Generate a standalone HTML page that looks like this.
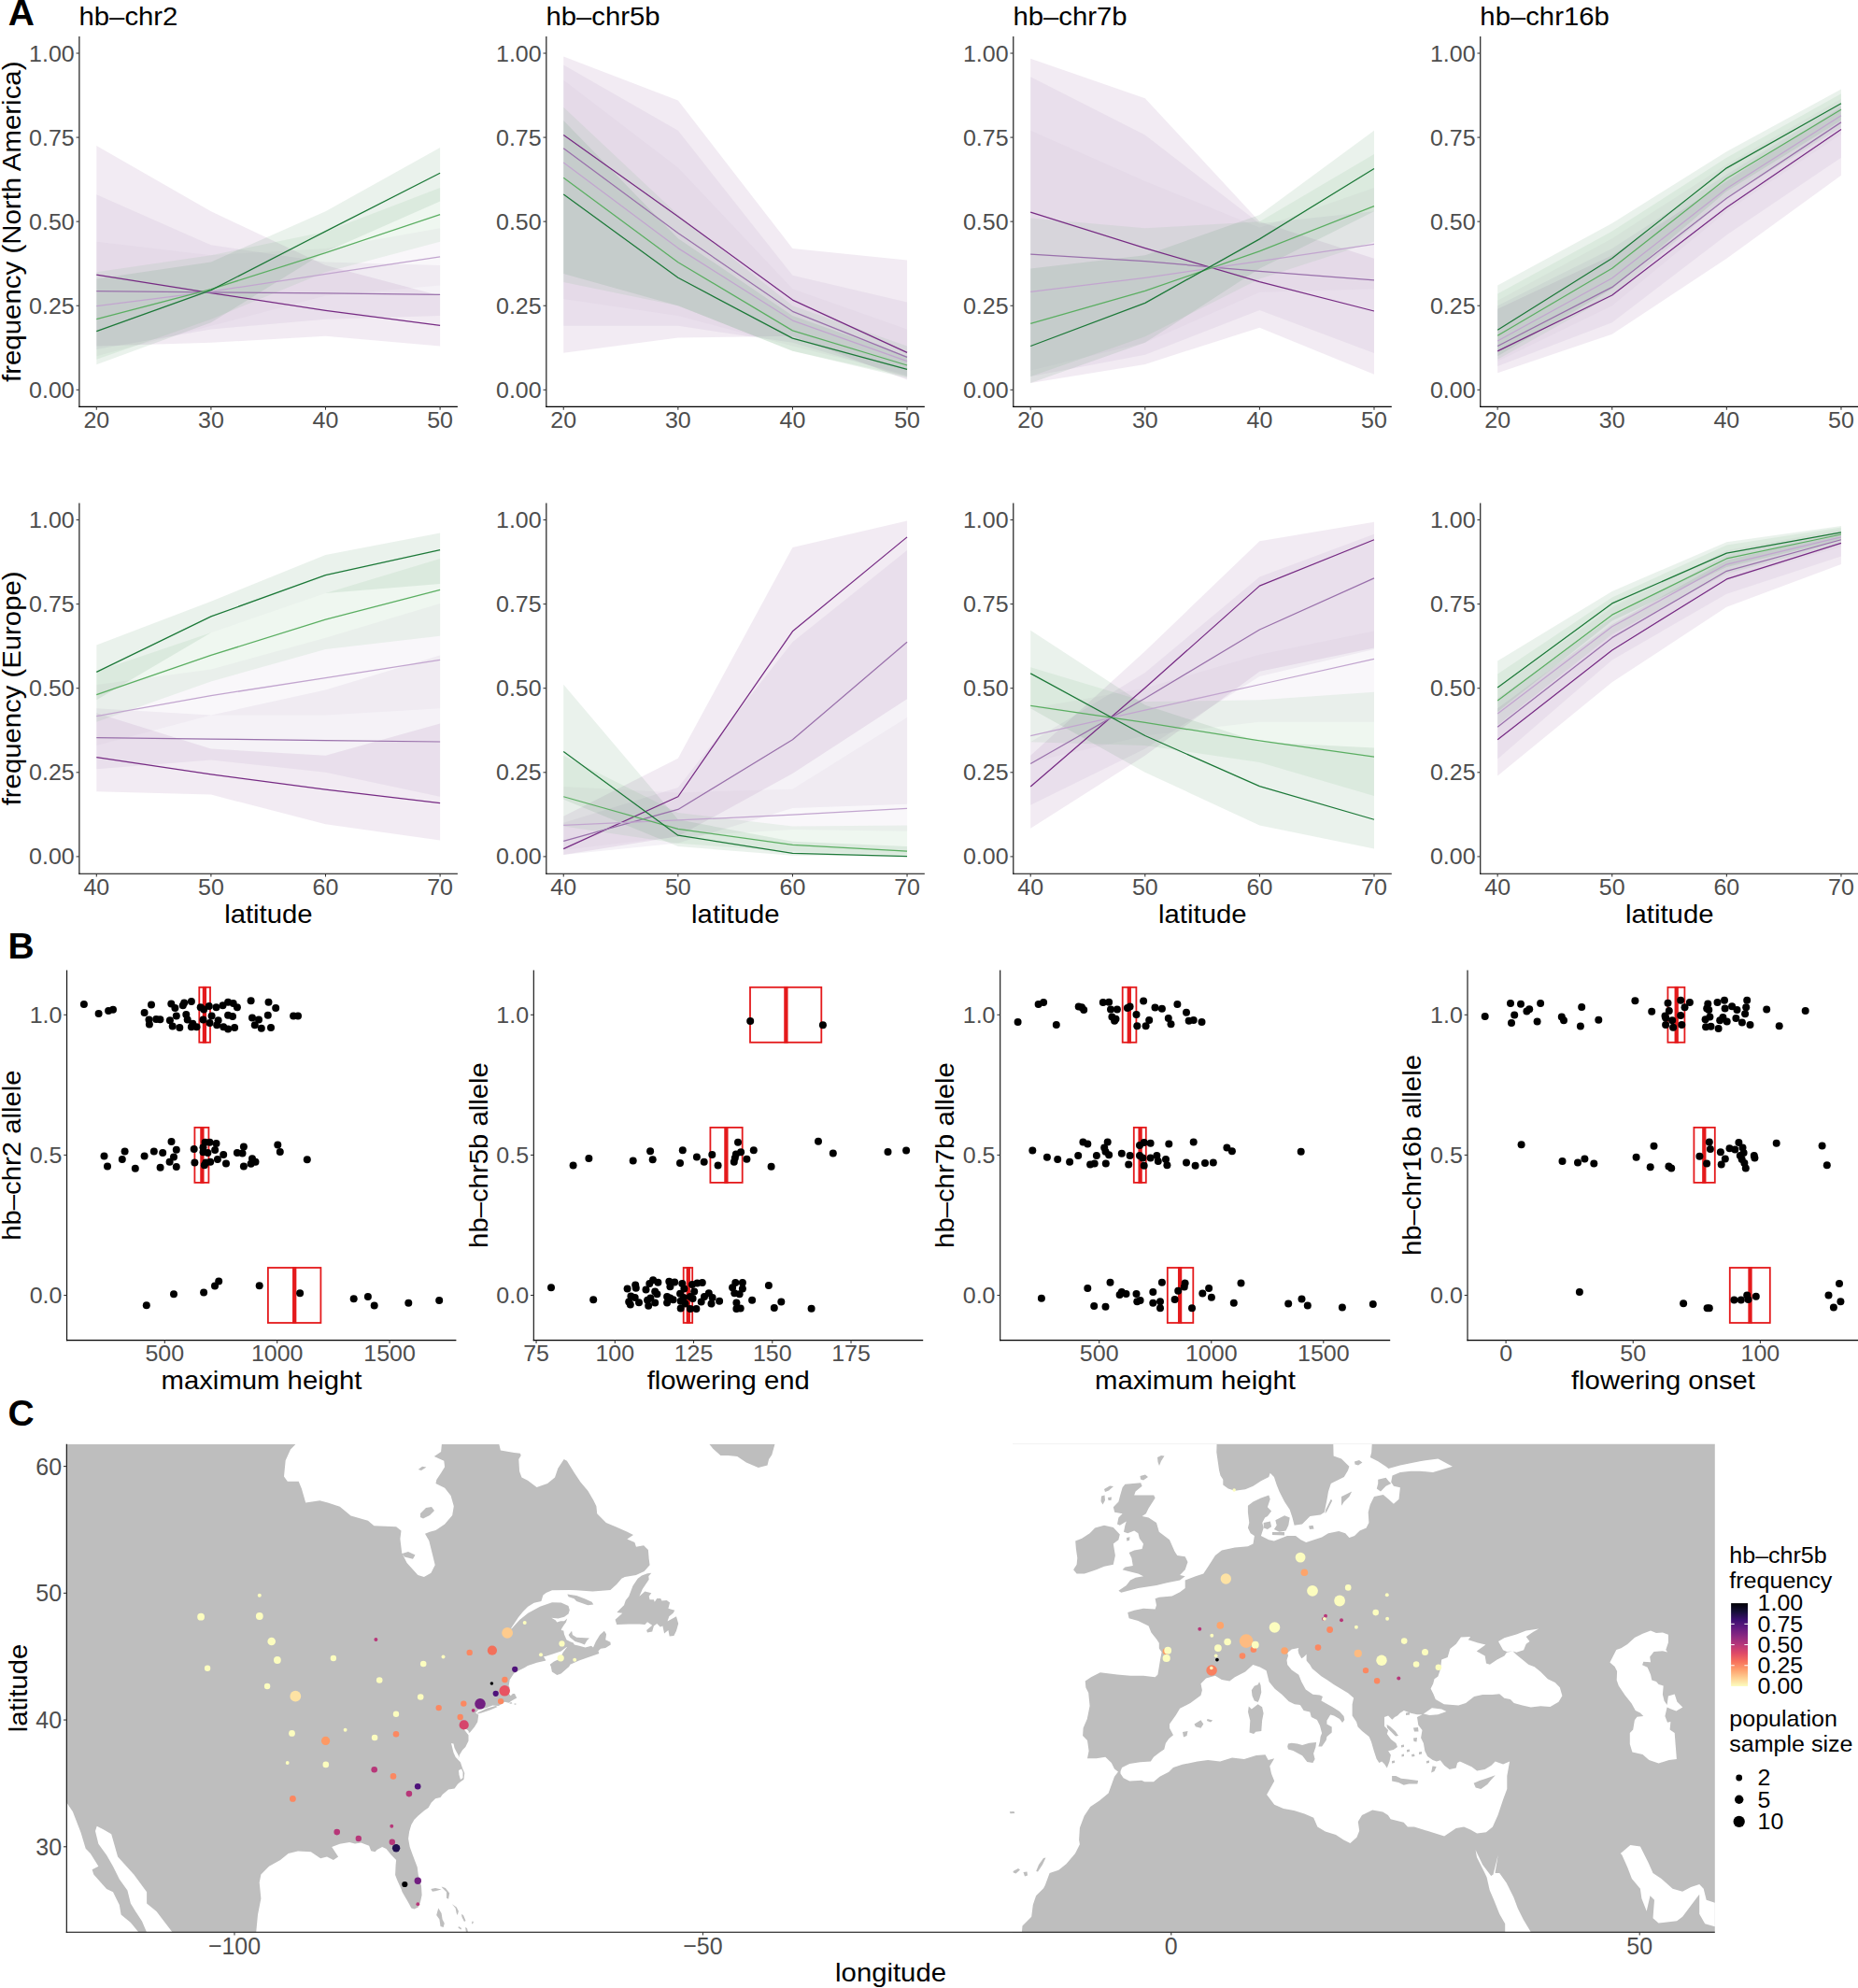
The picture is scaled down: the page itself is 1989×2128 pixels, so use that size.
<!DOCTYPE html>
<html><head><meta charset="utf-8"><title>figure</title>
<style>html,body{margin:0;padding:0;background:#fff;}svg{display:block;}</style>
</head><body>
<svg xmlns="http://www.w3.org/2000/svg" width="1989" height="2128" viewBox="0 0 1989 2128" font-family="'Liberation Sans', Arial, Helvetica, sans-serif">
<path d="M103.3 156.08 L225.9 226.34 L348.5 283.99 L471.1 316.42 L471.1 370.46 L348.5 359.65 L225.9 366.86 L103.3 370.46Z" fill="#762a83" fill-opacity="0.095"/>
<path d="M103.3 208.33 L225.9 262.37 L348.5 280.39 L471.1 283.99 L471.1 338.03 L348.5 341.64 L225.9 352.45 L103.3 374.06Z" fill="#9970ab" fill-opacity="0.095"/>
<path d="M103.3 258.77 L225.9 273.18 L348.5 265.97 L471.1 244.36 L471.1 305.61 L348.5 316.42 L225.9 348.84 L103.3 381.27Z" fill="#c2a5cf" fill-opacity="0.095"/>
<path d="M103.3 291.2 L225.9 273.18 L348.5 247.96 L471.1 201.12 L471.1 258.77 L348.5 291.2 L225.9 341.64 L103.3 384.87Z" fill="#5aae61" fill-opacity="0.095"/>
<path d="M103.3 298.4 L225.9 280.39 L348.5 226.34 L471.1 157.88 L471.1 215.53 L348.5 269.58 L225.9 345.24 L103.3 390.28Z" fill="#1b7837" fill-opacity="0.095"/>
<path d="M103.3 294.08 L225.9 313.53 L348.5 332.27 L471.1 348.48" fill="none" stroke="#762a83" stroke-width="1.25" stroke-linejoin="round"/>
<path d="M103.3 311.73 L225.9 312.81 L348.5 313.89 L471.1 315.34" fill="none" stroke="#9970ab" stroke-width="1.25" stroke-linejoin="round"/>
<path d="M103.3 327.59 L225.9 312.09 L348.5 293.36 L471.1 274.98" fill="none" stroke="#c2a5cf" stroke-width="1.25" stroke-linejoin="round"/>
<path d="M103.3 341.64 L225.9 309.57 L348.5 270.66 L471.1 229.58" fill="none" stroke="#5aae61" stroke-width="1.25" stroke-linejoin="round"/>
<path d="M103.3 354.61 L225.9 310.65 L348.5 247.6 L471.1 185.27" fill="none" stroke="#1b7837" stroke-width="1.25" stroke-linejoin="round"/>
<line x1="84.9" y1="39.1" x2="84.9" y2="435.93" stroke="#000" stroke-width="1.07"/>
<line x1="84.37" y1="435.4" x2="489.9" y2="435.4" stroke="#000" stroke-width="1.07"/>
<line x1="81.6" y1="417.3" x2="84.9" y2="417.3" stroke="#333" stroke-width="1.07"/>
<text x="79.7" y="425.8" font-size="24.5" fill="#4d4d4d" textLength="48.64" lengthAdjust="spacingAndGlyphs" text-anchor="end">0.00</text>
<line x1="81.6" y1="327.23" x2="84.9" y2="327.23" stroke="#333" stroke-width="1.07"/>
<text x="79.7" y="335.73" font-size="24.5" fill="#4d4d4d" textLength="48.64" lengthAdjust="spacingAndGlyphs" text-anchor="end">0.25</text>
<line x1="81.6" y1="237.15" x2="84.9" y2="237.15" stroke="#333" stroke-width="1.07"/>
<text x="79.7" y="245.65" font-size="24.5" fill="#4d4d4d" textLength="48.64" lengthAdjust="spacingAndGlyphs" text-anchor="end">0.50</text>
<line x1="81.6" y1="147.07" x2="84.9" y2="147.07" stroke="#333" stroke-width="1.07"/>
<text x="79.7" y="155.57" font-size="24.5" fill="#4d4d4d" textLength="48.64" lengthAdjust="spacingAndGlyphs" text-anchor="end">0.75</text>
<line x1="81.6" y1="57" x2="84.9" y2="57" stroke="#333" stroke-width="1.07"/>
<text x="79.7" y="65.5" font-size="24.5" fill="#4d4d4d" textLength="48.64" lengthAdjust="spacingAndGlyphs" text-anchor="end">1.00</text>
<line x1="103.3" y1="435.4" x2="103.3" y2="438.7" stroke="#333" stroke-width="1.07"/>
<text x="103.3" y="458" font-size="24.5" fill="#4d4d4d" textLength="27.80" lengthAdjust="spacingAndGlyphs" text-anchor="middle">20</text>
<line x1="225.9" y1="435.4" x2="225.9" y2="438.7" stroke="#333" stroke-width="1.07"/>
<text x="225.9" y="458" font-size="24.5" fill="#4d4d4d" textLength="27.80" lengthAdjust="spacingAndGlyphs" text-anchor="middle">30</text>
<line x1="348.5" y1="435.4" x2="348.5" y2="438.7" stroke="#333" stroke-width="1.07"/>
<text x="348.5" y="458" font-size="24.5" fill="#4d4d4d" textLength="27.80" lengthAdjust="spacingAndGlyphs" text-anchor="middle">40</text>
<line x1="471.1" y1="435.4" x2="471.1" y2="438.7" stroke="#333" stroke-width="1.07"/>
<text x="471.1" y="458" font-size="24.5" fill="#4d4d4d" textLength="27.80" lengthAdjust="spacingAndGlyphs" text-anchor="middle">50</text>
<path d="M603.25 60.6 L725.85 107.44 L848.45 265.97 L971.05 278.58 L971.05 406.49 L848.45 359.65 L725.85 361.45 L603.25 377.67Z" fill="#762a83" fill-opacity="0.095"/>
<path d="M603.25 69.61 L725.85 139.87 L848.45 294.8 L971.05 323.62 L971.05 402.89 L848.45 366.86 L725.85 348.84 L603.25 348.84Z" fill="#9970ab" fill-opacity="0.095"/>
<path d="M603.25 85.82 L725.85 179.5 L848.45 309.21 L971.05 352.45 L971.05 401.09 L848.45 370.46 L725.85 338.03 L603.25 320.02Z" fill="#c2a5cf" fill-opacity="0.095"/>
<path d="M603.25 114.65 L725.85 229.94 L848.45 327.23 L971.05 370.46 L971.05 402.89 L848.45 375.87 L725.85 327.23 L603.25 302Z" fill="#5aae61" fill-opacity="0.095"/>
<path d="M603.25 129.06 L725.85 255.16 L848.45 338.03 L971.05 381.27 L971.05 404.69 L848.45 375.87 L725.85 327.23 L603.25 293Z" fill="#1b7837" fill-opacity="0.095"/>
<path d="M603.25 144.55 L725.85 231.75 L848.45 321.1 L971.05 377.31" fill="none" stroke="#762a83" stroke-width="1.25" stroke-linejoin="round"/>
<path d="M603.25 158.78 L725.85 249.4 L848.45 333.35 L971.05 382.35" fill="none" stroke="#9970ab" stroke-width="1.25" stroke-linejoin="round"/>
<path d="M603.25 174.1 L725.85 265.61 L848.45 343.08 L971.05 386.67" fill="none" stroke="#c2a5cf" stroke-width="1.25" stroke-linejoin="round"/>
<path d="M603.25 190.31 L725.85 280.75 L848.45 353.89 L971.05 391" fill="none" stroke="#5aae61" stroke-width="1.25" stroke-linejoin="round"/>
<path d="M603.25 207.97 L725.85 297.32 L848.45 362.17 L971.05 395.32" fill="none" stroke="#1b7837" stroke-width="1.25" stroke-linejoin="round"/>
<line x1="584.85" y1="39.1" x2="584.85" y2="435.93" stroke="#000" stroke-width="1.07"/>
<line x1="584.32" y1="435.4" x2="989.85" y2="435.4" stroke="#000" stroke-width="1.07"/>
<line x1="581.55" y1="417.3" x2="584.85" y2="417.3" stroke="#333" stroke-width="1.07"/>
<text x="579.65" y="425.8" font-size="24.5" fill="#4d4d4d" textLength="48.64" lengthAdjust="spacingAndGlyphs" text-anchor="end">0.00</text>
<line x1="581.55" y1="327.23" x2="584.85" y2="327.23" stroke="#333" stroke-width="1.07"/>
<text x="579.65" y="335.73" font-size="24.5" fill="#4d4d4d" textLength="48.64" lengthAdjust="spacingAndGlyphs" text-anchor="end">0.25</text>
<line x1="581.55" y1="237.15" x2="584.85" y2="237.15" stroke="#333" stroke-width="1.07"/>
<text x="579.65" y="245.65" font-size="24.5" fill="#4d4d4d" textLength="48.64" lengthAdjust="spacingAndGlyphs" text-anchor="end">0.50</text>
<line x1="581.55" y1="147.07" x2="584.85" y2="147.07" stroke="#333" stroke-width="1.07"/>
<text x="579.65" y="155.57" font-size="24.5" fill="#4d4d4d" textLength="48.64" lengthAdjust="spacingAndGlyphs" text-anchor="end">0.75</text>
<line x1="581.55" y1="57" x2="584.85" y2="57" stroke="#333" stroke-width="1.07"/>
<text x="579.65" y="65.5" font-size="24.5" fill="#4d4d4d" textLength="48.64" lengthAdjust="spacingAndGlyphs" text-anchor="end">1.00</text>
<line x1="603.25" y1="435.4" x2="603.25" y2="438.7" stroke="#333" stroke-width="1.07"/>
<text x="603.25" y="458" font-size="24.5" fill="#4d4d4d" textLength="27.80" lengthAdjust="spacingAndGlyphs" text-anchor="middle">20</text>
<line x1="725.85" y1="435.4" x2="725.85" y2="438.7" stroke="#333" stroke-width="1.07"/>
<text x="725.85" y="458" font-size="24.5" fill="#4d4d4d" textLength="27.80" lengthAdjust="spacingAndGlyphs" text-anchor="middle">30</text>
<line x1="848.45" y1="435.4" x2="848.45" y2="438.7" stroke="#333" stroke-width="1.07"/>
<text x="848.45" y="458" font-size="24.5" fill="#4d4d4d" textLength="27.80" lengthAdjust="spacingAndGlyphs" text-anchor="middle">40</text>
<line x1="971.05" y1="435.4" x2="971.05" y2="438.7" stroke="#333" stroke-width="1.07"/>
<text x="971.05" y="458" font-size="24.5" fill="#4d4d4d" textLength="27.80" lengthAdjust="spacingAndGlyphs" text-anchor="middle">50</text>
<path d="M1103.2 62.76 L1225.8 105.28 L1348.4 237.15 L1471 276.78 L1471 400.73 L1348.4 350.64 L1225.8 389.92 L1103.2 410.09Z" fill="#762a83" fill-opacity="0.095"/>
<path d="M1103.2 82.22 L1225.8 144.55 L1348.4 239.31 L1471 226.34 L1471 378.03 L1348.4 331.91 L1225.8 379.83 L1103.2 402.89Z" fill="#9970ab" fill-opacity="0.095"/>
<path d="M1103.2 139.87 L1225.8 193.91 L1348.4 243.64 L1471 201.12 L1471 309.21 L1348.4 312.81 L1225.8 366.86 L1103.2 396.4Z" fill="#c2a5cf" fill-opacity="0.095"/>
<path d="M1103.2 233.55 L1225.8 244.36 L1348.4 237.15 L1471 165.09 L1471 258.77 L1348.4 298.4 L1225.8 360.37 L1103.2 402.89Z" fill="#5aae61" fill-opacity="0.095"/>
<path d="M1103.2 287.59 L1225.8 273.18 L1348.4 229.94 L1471 139.87 L1471 226.34 L1348.4 287.59 L1225.8 366.86 L1103.2 410.09Z" fill="#1b7837" fill-opacity="0.095"/>
<path d="M1103.2 227.06 L1225.8 265.61 L1348.4 301.64 L1471 332.99" fill="none" stroke="#762a83" stroke-width="1.25" stroke-linejoin="round"/>
<path d="M1103.2 272.1 L1225.8 279.67 L1348.4 290.47 L1471 299.84" fill="none" stroke="#9970ab" stroke-width="1.25" stroke-linejoin="round"/>
<path d="M1103.2 312.45 L1225.8 297.32 L1348.4 279.67 L1471 261.29" fill="none" stroke="#c2a5cf" stroke-width="1.25" stroke-linejoin="round"/>
<path d="M1103.2 346.32 L1225.8 311.37 L1348.4 268.86 L1471 220.58" fill="none" stroke="#5aae61" stroke-width="1.25" stroke-linejoin="round"/>
<path d="M1103.2 370.46 L1225.8 324.34 L1348.4 255.89 L1471 180.58" fill="none" stroke="#1b7837" stroke-width="1.25" stroke-linejoin="round"/>
<line x1="1084.8" y1="39.1" x2="1084.8" y2="435.93" stroke="#000" stroke-width="1.07"/>
<line x1="1084.27" y1="435.4" x2="1489.8" y2="435.4" stroke="#000" stroke-width="1.07"/>
<line x1="1081.5" y1="417.3" x2="1084.8" y2="417.3" stroke="#333" stroke-width="1.07"/>
<text x="1079.6" y="425.8" font-size="24.5" fill="#4d4d4d" textLength="48.64" lengthAdjust="spacingAndGlyphs" text-anchor="end">0.00</text>
<line x1="1081.5" y1="327.23" x2="1084.8" y2="327.23" stroke="#333" stroke-width="1.07"/>
<text x="1079.6" y="335.73" font-size="24.5" fill="#4d4d4d" textLength="48.64" lengthAdjust="spacingAndGlyphs" text-anchor="end">0.25</text>
<line x1="1081.5" y1="237.15" x2="1084.8" y2="237.15" stroke="#333" stroke-width="1.07"/>
<text x="1079.6" y="245.65" font-size="24.5" fill="#4d4d4d" textLength="48.64" lengthAdjust="spacingAndGlyphs" text-anchor="end">0.50</text>
<line x1="1081.5" y1="147.07" x2="1084.8" y2="147.07" stroke="#333" stroke-width="1.07"/>
<text x="1079.6" y="155.57" font-size="24.5" fill="#4d4d4d" textLength="48.64" lengthAdjust="spacingAndGlyphs" text-anchor="end">0.75</text>
<line x1="1081.5" y1="57" x2="1084.8" y2="57" stroke="#333" stroke-width="1.07"/>
<text x="1079.6" y="65.5" font-size="24.5" fill="#4d4d4d" textLength="48.64" lengthAdjust="spacingAndGlyphs" text-anchor="end">1.00</text>
<line x1="1103.2" y1="435.4" x2="1103.2" y2="438.7" stroke="#333" stroke-width="1.07"/>
<text x="1103.2" y="458" font-size="24.5" fill="#4d4d4d" textLength="27.80" lengthAdjust="spacingAndGlyphs" text-anchor="middle">20</text>
<line x1="1225.8" y1="435.4" x2="1225.8" y2="438.7" stroke="#333" stroke-width="1.07"/>
<text x="1225.8" y="458" font-size="24.5" fill="#4d4d4d" textLength="27.80" lengthAdjust="spacingAndGlyphs" text-anchor="middle">30</text>
<line x1="1348.4" y1="435.4" x2="1348.4" y2="438.7" stroke="#333" stroke-width="1.07"/>
<text x="1348.4" y="458" font-size="24.5" fill="#4d4d4d" textLength="27.80" lengthAdjust="spacingAndGlyphs" text-anchor="middle">40</text>
<line x1="1471" y1="435.4" x2="1471" y2="438.7" stroke="#333" stroke-width="1.07"/>
<text x="1471" y="458" font-size="24.5" fill="#4d4d4d" textLength="27.80" lengthAdjust="spacingAndGlyphs" text-anchor="middle">50</text>
<path d="M1603.15 330.83 L1725.75 273.18 L1848.35 193.91 L1970.95 114.65 L1970.95 187.79 L1848.35 276.78 L1725.75 357.85 L1603.15 399.29Z" fill="#762a83" fill-opacity="0.095"/>
<path d="M1603.15 327.23 L1725.75 265.97 L1848.35 186.71 L1970.95 111.05 L1970.95 168.69 L1848.35 251.56 L1725.75 345.24 L1603.15 392.08Z" fill="#9970ab" fill-opacity="0.095"/>
<path d="M1603.15 321.82 L1725.75 255.16 L1848.35 175.9 L1970.95 105.64 L1970.95 143.47 L1848.35 226.34 L1725.75 327.23 L1603.15 386.67Z" fill="#c2a5cf" fill-opacity="0.095"/>
<path d="M1603.15 314.61 L1725.75 247.6 L1848.35 168.69 L1970.95 100.24 L1970.95 136.27 L1848.35 211.93 L1725.75 316.42 L1603.15 384.87Z" fill="#5aae61" fill-opacity="0.095"/>
<path d="M1603.15 305.61 L1725.75 238.95 L1848.35 162.21 L1970.95 95.55 L1970.95 129.06 L1848.35 204.72 L1725.75 309.21 L1603.15 381.27Z" fill="#1b7837" fill-opacity="0.095"/>
<path d="M1603.15 375.87 L1725.75 316.06 L1848.35 222.02 L1970.95 138.43" fill="none" stroke="#762a83" stroke-width="1.25" stroke-linejoin="round"/>
<path d="M1603.15 370.46 L1725.75 307.41 L1848.35 212.29 L1970.95 130.86" fill="none" stroke="#9970ab" stroke-width="1.25" stroke-linejoin="round"/>
<path d="M1603.15 365.06 L1725.75 297.68 L1848.35 201.84 L1970.95 123.66" fill="none" stroke="#c2a5cf" stroke-width="1.25" stroke-linejoin="round"/>
<path d="M1603.15 359.29 L1725.75 287.23 L1848.35 191.03 L1970.95 117.17" fill="none" stroke="#5aae61" stroke-width="1.25" stroke-linejoin="round"/>
<path d="M1603.15 353.17 L1725.75 276.42 L1848.35 179.86 L1970.95 110.68" fill="none" stroke="#1b7837" stroke-width="1.25" stroke-linejoin="round"/>
<line x1="1584.75" y1="39.1" x2="1584.75" y2="435.93" stroke="#000" stroke-width="1.07"/>
<line x1="1584.22" y1="435.4" x2="1989.75" y2="435.4" stroke="#000" stroke-width="1.07"/>
<line x1="1581.45" y1="417.3" x2="1584.75" y2="417.3" stroke="#333" stroke-width="1.07"/>
<text x="1579.55" y="425.8" font-size="24.5" fill="#4d4d4d" textLength="48.64" lengthAdjust="spacingAndGlyphs" text-anchor="end">0.00</text>
<line x1="1581.45" y1="327.23" x2="1584.75" y2="327.23" stroke="#333" stroke-width="1.07"/>
<text x="1579.55" y="335.73" font-size="24.5" fill="#4d4d4d" textLength="48.64" lengthAdjust="spacingAndGlyphs" text-anchor="end">0.25</text>
<line x1="1581.45" y1="237.15" x2="1584.75" y2="237.15" stroke="#333" stroke-width="1.07"/>
<text x="1579.55" y="245.65" font-size="24.5" fill="#4d4d4d" textLength="48.64" lengthAdjust="spacingAndGlyphs" text-anchor="end">0.50</text>
<line x1="1581.45" y1="147.07" x2="1584.75" y2="147.07" stroke="#333" stroke-width="1.07"/>
<text x="1579.55" y="155.57" font-size="24.5" fill="#4d4d4d" textLength="48.64" lengthAdjust="spacingAndGlyphs" text-anchor="end">0.75</text>
<line x1="1581.45" y1="57" x2="1584.75" y2="57" stroke="#333" stroke-width="1.07"/>
<text x="1579.55" y="65.5" font-size="24.5" fill="#4d4d4d" textLength="48.64" lengthAdjust="spacingAndGlyphs" text-anchor="end">1.00</text>
<line x1="1603.15" y1="435.4" x2="1603.15" y2="438.7" stroke="#333" stroke-width="1.07"/>
<text x="1603.15" y="458" font-size="24.5" fill="#4d4d4d" textLength="27.80" lengthAdjust="spacingAndGlyphs" text-anchor="middle">20</text>
<line x1="1725.75" y1="435.4" x2="1725.75" y2="438.7" stroke="#333" stroke-width="1.07"/>
<text x="1725.75" y="458" font-size="24.5" fill="#4d4d4d" textLength="27.80" lengthAdjust="spacingAndGlyphs" text-anchor="middle">30</text>
<line x1="1848.35" y1="435.4" x2="1848.35" y2="438.7" stroke="#333" stroke-width="1.07"/>
<text x="1848.35" y="458" font-size="24.5" fill="#4d4d4d" textLength="27.80" lengthAdjust="spacingAndGlyphs" text-anchor="middle">40</text>
<line x1="1970.95" y1="435.4" x2="1970.95" y2="438.7" stroke="#333" stroke-width="1.07"/>
<text x="1970.95" y="458" font-size="24.5" fill="#4d4d4d" textLength="27.80" lengthAdjust="spacingAndGlyphs" text-anchor="middle">50</text>
<text x="22" y="237.25" font-size="27.9" fill="#000" textLength="343.52" lengthAdjust="spacingAndGlyphs" text-anchor="middle" transform="rotate(-90 22 237.25)">frequency (North America)</text>
<path d="M103.3 763.37 L225.9 801.57 L348.5 808.78 L471.1 774.54 L471.1 899.6 L348.5 882.3 L225.9 850.59 L103.3 847.34Z" fill="#762a83" fill-opacity="0.095"/>
<path d="M103.3 758.32 L225.9 765.53 L348.5 738.5 L471.1 701.38 L471.1 852.75 L348.5 826.8 L225.9 813.47 L103.3 823.2Z" fill="#9970ab" fill-opacity="0.095"/>
<path d="M103.3 733.1 L225.9 716.52 L348.5 682.64 L471.1 645.88 L471.1 758.32 L348.5 765.53 L225.9 765.53 L103.3 797.97Z" fill="#c2a5cf" fill-opacity="0.095"/>
<path d="M103.3 718.68 L225.9 677.23 L348.5 635.07 L471.1 597.95 L471.1 680.84 L348.5 694.89 L225.9 729.49 L103.3 772.74Z" fill="#5aae61" fill-opacity="0.095"/>
<path d="M103.3 690.57 L225.9 643.72 L348.5 593.98 L471.1 570.56 L471.1 624.98 L348.5 635.07 L225.9 677.23 L103.3 749.31Z" fill="#1b7837" fill-opacity="0.095"/>
<path d="M103.3 810.58 L225.9 828.96 L348.5 845.18 L471.1 859.6" fill="none" stroke="#762a83" stroke-width="1.25" stroke-linejoin="round"/>
<path d="M103.3 789.68 L225.9 791.12 L348.5 792.56 L471.1 794" fill="none" stroke="#9970ab" stroke-width="1.25" stroke-linejoin="round"/>
<path d="M103.3 766.61 L225.9 744.63 L348.5 725.53 L471.1 706.43" fill="none" stroke="#c2a5cf" stroke-width="1.25" stroke-linejoin="round"/>
<path d="M103.3 743.55 L225.9 701.38 L348.5 663.18 L471.1 631.46" fill="none" stroke="#5aae61" stroke-width="1.25" stroke-linejoin="round"/>
<path d="M103.3 719.4 L225.9 659.93 L348.5 615.61 L471.1 588.58" fill="none" stroke="#1b7837" stroke-width="1.25" stroke-linejoin="round"/>
<line x1="84.9" y1="538.6" x2="84.9" y2="935.73" stroke="#000" stroke-width="1.07"/>
<line x1="84.37" y1="935.2" x2="489.9" y2="935.2" stroke="#000" stroke-width="1.07"/>
<line x1="81.6" y1="916.9" x2="84.9" y2="916.9" stroke="#333" stroke-width="1.07"/>
<text x="79.7" y="925.4" font-size="24.5" fill="#4d4d4d" textLength="48.64" lengthAdjust="spacingAndGlyphs" text-anchor="end">0.00</text>
<line x1="81.6" y1="826.8" x2="84.9" y2="826.8" stroke="#333" stroke-width="1.07"/>
<text x="79.7" y="835.3" font-size="24.5" fill="#4d4d4d" textLength="48.64" lengthAdjust="spacingAndGlyphs" text-anchor="end">0.25</text>
<line x1="81.6" y1="736.7" x2="84.9" y2="736.7" stroke="#333" stroke-width="1.07"/>
<text x="79.7" y="745.2" font-size="24.5" fill="#4d4d4d" textLength="48.64" lengthAdjust="spacingAndGlyphs" text-anchor="end">0.50</text>
<line x1="81.6" y1="646.6" x2="84.9" y2="646.6" stroke="#333" stroke-width="1.07"/>
<text x="79.7" y="655.1" font-size="24.5" fill="#4d4d4d" textLength="48.64" lengthAdjust="spacingAndGlyphs" text-anchor="end">0.75</text>
<line x1="81.6" y1="556.5" x2="84.9" y2="556.5" stroke="#333" stroke-width="1.07"/>
<text x="79.7" y="565" font-size="24.5" fill="#4d4d4d" textLength="48.64" lengthAdjust="spacingAndGlyphs" text-anchor="end">1.00</text>
<line x1="103.3" y1="935.2" x2="103.3" y2="938.5" stroke="#333" stroke-width="1.07"/>
<text x="103.3" y="957.8" font-size="24.5" fill="#4d4d4d" textLength="27.80" lengthAdjust="spacingAndGlyphs" text-anchor="middle">40</text>
<line x1="225.9" y1="935.2" x2="225.9" y2="938.5" stroke="#333" stroke-width="1.07"/>
<text x="225.9" y="957.8" font-size="24.5" fill="#4d4d4d" textLength="27.80" lengthAdjust="spacingAndGlyphs" text-anchor="middle">50</text>
<line x1="348.5" y1="935.2" x2="348.5" y2="938.5" stroke="#333" stroke-width="1.07"/>
<text x="348.5" y="957.8" font-size="24.5" fill="#4d4d4d" textLength="27.80" lengthAdjust="spacingAndGlyphs" text-anchor="middle">60</text>
<line x1="471.1" y1="935.2" x2="471.1" y2="938.5" stroke="#333" stroke-width="1.07"/>
<text x="471.1" y="957.8" font-size="24.5" fill="#4d4d4d" textLength="27.80" lengthAdjust="spacingAndGlyphs" text-anchor="middle">70</text>
<text x="287.4" y="987.7" font-size="27.9" fill="#000" textLength="94.46" lengthAdjust="spacingAndGlyphs" text-anchor="middle">latitude</text>
<path d="M603.25 873.65 L725.85 811.66 L848.45 586.05 L971.05 557.58 L971.05 748.23 L848.45 827.88 L725.85 895.28 L603.25 915.1Z" fill="#762a83" fill-opacity="0.095"/>
<path d="M603.25 880.86 L725.85 843.02 L848.45 687.33 L971.05 588.94 L971.05 860.68 L848.45 865 L725.85 902.48 L603.25 915.1Z" fill="#9970ab" fill-opacity="0.095"/>
<path d="M603.25 841.94 L725.85 848.42 L848.45 844.82 L971.05 768.05 L971.05 889.87 L848.45 888.07 L725.85 895.28 L603.25 909.69Z" fill="#c2a5cf" fill-opacity="0.095"/>
<path d="M603.25 808.78 L725.85 870.05 L848.45 884.46 L971.05 883.38 L971.05 915.1 L848.45 911.49 L725.85 902.84 L603.25 884.46Z" fill="#5aae61" fill-opacity="0.095"/>
<path d="M603.25 732.74 L725.85 877.26 L848.45 900.68 L971.05 906.09 L971.05 916.9 L848.45 915.82 L725.85 906.09 L603.25 855.63Z" fill="#1b7837" fill-opacity="0.095"/>
<path d="M603.25 908.61 L725.85 852.75 L848.45 675.79 L971.05 574.88" fill="none" stroke="#762a83" stroke-width="1.25" stroke-linejoin="round"/>
<path d="M603.25 900.32 L725.85 866.44 L848.45 791.84 L971.05 687.33" fill="none" stroke="#9970ab" stroke-width="1.25" stroke-linejoin="round"/>
<path d="M603.25 883.38 L725.85 877.98 L848.45 872.21 L971.05 865.36" fill="none" stroke="#c2a5cf" stroke-width="1.25" stroke-linejoin="round"/>
<path d="M603.25 852.75 L725.85 887.35 L848.45 904.29 L971.05 911.13" fill="none" stroke="#5aae61" stroke-width="1.25" stroke-linejoin="round"/>
<path d="M603.25 804.46 L725.85 894.19 L848.45 913.3 L971.05 916.54" fill="none" stroke="#1b7837" stroke-width="1.25" stroke-linejoin="round"/>
<line x1="584.85" y1="538.6" x2="584.85" y2="935.73" stroke="#000" stroke-width="1.07"/>
<line x1="584.32" y1="935.2" x2="989.85" y2="935.2" stroke="#000" stroke-width="1.07"/>
<line x1="581.55" y1="916.9" x2="584.85" y2="916.9" stroke="#333" stroke-width="1.07"/>
<text x="579.65" y="925.4" font-size="24.5" fill="#4d4d4d" textLength="48.64" lengthAdjust="spacingAndGlyphs" text-anchor="end">0.00</text>
<line x1="581.55" y1="826.8" x2="584.85" y2="826.8" stroke="#333" stroke-width="1.07"/>
<text x="579.65" y="835.3" font-size="24.5" fill="#4d4d4d" textLength="48.64" lengthAdjust="spacingAndGlyphs" text-anchor="end">0.25</text>
<line x1="581.55" y1="736.7" x2="584.85" y2="736.7" stroke="#333" stroke-width="1.07"/>
<text x="579.65" y="745.2" font-size="24.5" fill="#4d4d4d" textLength="48.64" lengthAdjust="spacingAndGlyphs" text-anchor="end">0.50</text>
<line x1="581.55" y1="646.6" x2="584.85" y2="646.6" stroke="#333" stroke-width="1.07"/>
<text x="579.65" y="655.1" font-size="24.5" fill="#4d4d4d" textLength="48.64" lengthAdjust="spacingAndGlyphs" text-anchor="end">0.75</text>
<line x1="581.55" y1="556.5" x2="584.85" y2="556.5" stroke="#333" stroke-width="1.07"/>
<text x="579.65" y="565" font-size="24.5" fill="#4d4d4d" textLength="48.64" lengthAdjust="spacingAndGlyphs" text-anchor="end">1.00</text>
<line x1="603.25" y1="935.2" x2="603.25" y2="938.5" stroke="#333" stroke-width="1.07"/>
<text x="603.25" y="957.8" font-size="24.5" fill="#4d4d4d" textLength="27.80" lengthAdjust="spacingAndGlyphs" text-anchor="middle">40</text>
<line x1="725.85" y1="935.2" x2="725.85" y2="938.5" stroke="#333" stroke-width="1.07"/>
<text x="725.85" y="957.8" font-size="24.5" fill="#4d4d4d" textLength="27.80" lengthAdjust="spacingAndGlyphs" text-anchor="middle">50</text>
<line x1="848.45" y1="935.2" x2="848.45" y2="938.5" stroke="#333" stroke-width="1.07"/>
<text x="848.45" y="957.8" font-size="24.5" fill="#4d4d4d" textLength="27.80" lengthAdjust="spacingAndGlyphs" text-anchor="middle">60</text>
<line x1="971.05" y1="935.2" x2="971.05" y2="938.5" stroke="#333" stroke-width="1.07"/>
<text x="971.05" y="957.8" font-size="24.5" fill="#4d4d4d" textLength="27.80" lengthAdjust="spacingAndGlyphs" text-anchor="middle">70</text>
<text x="787.35" y="987.7" font-size="27.9" fill="#000" textLength="94.46" lengthAdjust="spacingAndGlyphs" text-anchor="middle">latitude</text>
<path d="M1103.2 808.78 L1225.8 697.06 L1348.4 579.21 L1471 558.66 L1471 693.45 L1348.4 718.68 L1225.8 808.78 L1103.2 886.63Z" fill="#762a83" fill-opacity="0.095"/>
<path d="M1103.2 794.36 L1225.8 720.12 L1348.4 617.41 L1471 571.64 L1471 694.89 L1348.4 724.09 L1225.8 801.57 L1103.2 861.76Z" fill="#9970ab" fill-opacity="0.095"/>
<path d="M1103.2 758.32 L1225.8 736.7 L1348.4 700.66 L1471 675.43 L1471 772.74 L1348.4 772.74 L1225.8 787.16 L1103.2 815.99Z" fill="#c2a5cf" fill-opacity="0.095"/>
<path d="M1103.2 714.36 L1225.8 751.12 L1348.4 749.31 L1471 740.66 L1471 852.03 L1348.4 815.99 L1225.8 797.97 L1103.2 794.36Z" fill="#5aae61" fill-opacity="0.095"/>
<path d="M1103.2 674.71 L1225.8 754.72 L1348.4 794.36 L1471 800.49 L1471 908.61 L1348.4 883.38 L1225.8 826.8 L1103.2 758.32Z" fill="#1b7837" fill-opacity="0.095"/>
<path d="M1103.2 841.94 L1225.8 736.34 L1348.4 627.14 L1471 577.76" fill="none" stroke="#762a83" stroke-width="1.25" stroke-linejoin="round"/>
<path d="M1103.2 817.43 L1225.8 747.51 L1348.4 673.99 L1471 618.85" fill="none" stroke="#9970ab" stroke-width="1.25" stroke-linejoin="round"/>
<path d="M1103.2 787.52 L1225.8 760.13 L1348.4 732.74 L1471 705.35" fill="none" stroke="#c2a5cf" stroke-width="1.25" stroke-linejoin="round"/>
<path d="M1103.2 755.44 L1225.8 773.46 L1348.4 792.92 L1471 810.22" fill="none" stroke="#5aae61" stroke-width="1.25" stroke-linejoin="round"/>
<path d="M1103.2 720.84 L1225.8 787.52 L1348.4 841.58 L1471 877.26" fill="none" stroke="#1b7837" stroke-width="1.25" stroke-linejoin="round"/>
<line x1="1084.8" y1="538.6" x2="1084.8" y2="935.73" stroke="#000" stroke-width="1.07"/>
<line x1="1084.27" y1="935.2" x2="1489.8" y2="935.2" stroke="#000" stroke-width="1.07"/>
<line x1="1081.5" y1="916.9" x2="1084.8" y2="916.9" stroke="#333" stroke-width="1.07"/>
<text x="1079.6" y="925.4" font-size="24.5" fill="#4d4d4d" textLength="48.64" lengthAdjust="spacingAndGlyphs" text-anchor="end">0.00</text>
<line x1="1081.5" y1="826.8" x2="1084.8" y2="826.8" stroke="#333" stroke-width="1.07"/>
<text x="1079.6" y="835.3" font-size="24.5" fill="#4d4d4d" textLength="48.64" lengthAdjust="spacingAndGlyphs" text-anchor="end">0.25</text>
<line x1="1081.5" y1="736.7" x2="1084.8" y2="736.7" stroke="#333" stroke-width="1.07"/>
<text x="1079.6" y="745.2" font-size="24.5" fill="#4d4d4d" textLength="48.64" lengthAdjust="spacingAndGlyphs" text-anchor="end">0.50</text>
<line x1="1081.5" y1="646.6" x2="1084.8" y2="646.6" stroke="#333" stroke-width="1.07"/>
<text x="1079.6" y="655.1" font-size="24.5" fill="#4d4d4d" textLength="48.64" lengthAdjust="spacingAndGlyphs" text-anchor="end">0.75</text>
<line x1="1081.5" y1="556.5" x2="1084.8" y2="556.5" stroke="#333" stroke-width="1.07"/>
<text x="1079.6" y="565" font-size="24.5" fill="#4d4d4d" textLength="48.64" lengthAdjust="spacingAndGlyphs" text-anchor="end">1.00</text>
<line x1="1103.2" y1="935.2" x2="1103.2" y2="938.5" stroke="#333" stroke-width="1.07"/>
<text x="1103.2" y="957.8" font-size="24.5" fill="#4d4d4d" textLength="27.80" lengthAdjust="spacingAndGlyphs" text-anchor="middle">40</text>
<line x1="1225.8" y1="935.2" x2="1225.8" y2="938.5" stroke="#333" stroke-width="1.07"/>
<text x="1225.8" y="957.8" font-size="24.5" fill="#4d4d4d" textLength="27.80" lengthAdjust="spacingAndGlyphs" text-anchor="middle">50</text>
<line x1="1348.4" y1="935.2" x2="1348.4" y2="938.5" stroke="#333" stroke-width="1.07"/>
<text x="1348.4" y="957.8" font-size="24.5" fill="#4d4d4d" textLength="27.80" lengthAdjust="spacingAndGlyphs" text-anchor="middle">60</text>
<line x1="1471" y1="935.2" x2="1471" y2="938.5" stroke="#333" stroke-width="1.07"/>
<text x="1471" y="957.8" font-size="24.5" fill="#4d4d4d" textLength="27.80" lengthAdjust="spacingAndGlyphs" text-anchor="middle">70</text>
<text x="1287.3" y="987.7" font-size="27.9" fill="#000" textLength="94.46" lengthAdjust="spacingAndGlyphs" text-anchor="middle">latitude</text>
<path d="M1603.15 758.32 L1725.75 668.22 L1848.35 599.75 L1970.95 570.92 L1970.95 604.07 L1848.35 649.84 L1725.75 730.21 L1603.15 830.4Z" fill="#762a83" fill-opacity="0.095"/>
<path d="M1603.15 747.51 L1725.75 661.02 L1848.35 594.34 L1970.95 569.11 L1970.95 595.42 L1848.35 635.79 L1725.75 706.43 L1603.15 812.38Z" fill="#9970ab" fill-opacity="0.095"/>
<path d="M1603.15 736.7 L1725.75 650.2 L1848.35 588.94 L1970.95 566.59 L1970.95 585.33 L1848.35 621.37 L1725.75 693.45 L1603.15 790.76Z" fill="#c2a5cf" fill-opacity="0.095"/>
<path d="M1603.15 721.56 L1725.75 639.39 L1848.35 583.53 L1970.95 564.43 L1970.95 581.73 L1848.35 614.16 L1725.75 679.04 L1603.15 776.34Z" fill="#5aae61" fill-opacity="0.095"/>
<path d="M1603.15 707.51 L1725.75 632.9 L1848.35 580.29 L1970.95 562.99 L1970.95 578.12 L1848.35 606.96 L1725.75 664.62 L1603.15 761.93Z" fill="#1b7837" fill-opacity="0.095"/>
<path d="M1603.15 791.84 L1725.75 695.97 L1848.35 619.93 L1970.95 581.37" fill="none" stroke="#762a83" stroke-width="1.25" stroke-linejoin="round"/>
<path d="M1603.15 778.15 L1725.75 682.64 L1848.35 611.28 L1970.95 577.76" fill="none" stroke="#9970ab" stroke-width="1.25" stroke-linejoin="round"/>
<path d="M1603.15 764.09 L1725.75 670.75 L1848.35 604.07 L1970.95 574.88" fill="none" stroke="#c2a5cf" stroke-width="1.25" stroke-linejoin="round"/>
<path d="M1603.15 750.03 L1725.75 658.13 L1848.35 597.95 L1970.95 572" fill="none" stroke="#5aae61" stroke-width="1.25" stroke-linejoin="round"/>
<path d="M1603.15 735.98 L1725.75 645.88 L1848.35 592.18 L1970.95 569.83" fill="none" stroke="#1b7837" stroke-width="1.25" stroke-linejoin="round"/>
<line x1="1584.75" y1="538.6" x2="1584.75" y2="935.73" stroke="#000" stroke-width="1.07"/>
<line x1="1584.22" y1="935.2" x2="1989.75" y2="935.2" stroke="#000" stroke-width="1.07"/>
<line x1="1581.45" y1="916.9" x2="1584.75" y2="916.9" stroke="#333" stroke-width="1.07"/>
<text x="1579.55" y="925.4" font-size="24.5" fill="#4d4d4d" textLength="48.64" lengthAdjust="spacingAndGlyphs" text-anchor="end">0.00</text>
<line x1="1581.45" y1="826.8" x2="1584.75" y2="826.8" stroke="#333" stroke-width="1.07"/>
<text x="1579.55" y="835.3" font-size="24.5" fill="#4d4d4d" textLength="48.64" lengthAdjust="spacingAndGlyphs" text-anchor="end">0.25</text>
<line x1="1581.45" y1="736.7" x2="1584.75" y2="736.7" stroke="#333" stroke-width="1.07"/>
<text x="1579.55" y="745.2" font-size="24.5" fill="#4d4d4d" textLength="48.64" lengthAdjust="spacingAndGlyphs" text-anchor="end">0.50</text>
<line x1="1581.45" y1="646.6" x2="1584.75" y2="646.6" stroke="#333" stroke-width="1.07"/>
<text x="1579.55" y="655.1" font-size="24.5" fill="#4d4d4d" textLength="48.64" lengthAdjust="spacingAndGlyphs" text-anchor="end">0.75</text>
<line x1="1581.45" y1="556.5" x2="1584.75" y2="556.5" stroke="#333" stroke-width="1.07"/>
<text x="1579.55" y="565" font-size="24.5" fill="#4d4d4d" textLength="48.64" lengthAdjust="spacingAndGlyphs" text-anchor="end">1.00</text>
<line x1="1603.15" y1="935.2" x2="1603.15" y2="938.5" stroke="#333" stroke-width="1.07"/>
<text x="1603.15" y="957.8" font-size="24.5" fill="#4d4d4d" textLength="27.80" lengthAdjust="spacingAndGlyphs" text-anchor="middle">40</text>
<line x1="1725.75" y1="935.2" x2="1725.75" y2="938.5" stroke="#333" stroke-width="1.07"/>
<text x="1725.75" y="957.8" font-size="24.5" fill="#4d4d4d" textLength="27.80" lengthAdjust="spacingAndGlyphs" text-anchor="middle">50</text>
<line x1="1848.35" y1="935.2" x2="1848.35" y2="938.5" stroke="#333" stroke-width="1.07"/>
<text x="1848.35" y="957.8" font-size="24.5" fill="#4d4d4d" textLength="27.80" lengthAdjust="spacingAndGlyphs" text-anchor="middle">60</text>
<line x1="1970.95" y1="935.2" x2="1970.95" y2="938.5" stroke="#333" stroke-width="1.07"/>
<text x="1970.95" y="957.8" font-size="24.5" fill="#4d4d4d" textLength="27.80" lengthAdjust="spacingAndGlyphs" text-anchor="middle">70</text>
<text x="1787.25" y="987.7" font-size="27.9" fill="#000" textLength="94.46" lengthAdjust="spacingAndGlyphs" text-anchor="middle">latitude</text>
<text x="22" y="736.9" font-size="27.9" fill="#000" textLength="250.77" lengthAdjust="spacingAndGlyphs" text-anchor="middle" transform="rotate(-90 22 736.9)">frequency (Europe)</text>
<text x="84.5" y="27.1" font-size="27.9" fill="#000" textLength="105.87" lengthAdjust="spacingAndGlyphs">hb&#8211;chr2</text>
<text x="584.45" y="27.1" font-size="27.9" fill="#000" textLength="122.16" lengthAdjust="spacingAndGlyphs">hb&#8211;chr5b</text>
<text x="1084.4" y="27.1" font-size="27.9" fill="#000" textLength="122.16" lengthAdjust="spacingAndGlyphs">hb&#8211;chr7b</text>
<text x="1584.35" y="27.1" font-size="27.9" fill="#000" textLength="138.45" lengthAdjust="spacingAndGlyphs">hb&#8211;chr16b</text>
<rect x="213.3" y="1056.8" width="11.7" height="59" fill="none" stroke="#e41a1c" stroke-width="1.8"/>
<line x1="218.9" y1="1055.9" x2="218.9" y2="1116.7" stroke="#e41a1c" stroke-width="4.3"/>
<rect x="208.4" y="1206.9" width="15" height="59" fill="none" stroke="#e41a1c" stroke-width="1.8"/>
<line x1="216.4" y1="1206" x2="216.4" y2="1266.8" stroke="#e41a1c" stroke-width="4.3"/>
<rect x="286.9" y="1357" width="56.5" height="59" fill="none" stroke="#e41a1c" stroke-width="1.8"/>
<line x1="315.2" y1="1356.1" x2="315.2" y2="1416.9" stroke="#e41a1c" stroke-width="4.3"/>
<circle cx="89.9" cy="1075.1" r="4" fill="#000"/>
<circle cx="105.6" cy="1084.9" r="4" fill="#000"/>
<circle cx="116.1" cy="1082.1" r="4" fill="#000"/>
<circle cx="121" cy="1080.8" r="4" fill="#000"/>
<circle cx="154.6" cy="1083.9" r="4" fill="#000"/>
<circle cx="162" cy="1075.5" r="4" fill="#000"/>
<circle cx="159.5" cy="1091.6" r="4" fill="#000"/>
<circle cx="159.9" cy="1096.5" r="4" fill="#000"/>
<circle cx="167.2" cy="1090.9" r="4" fill="#000"/>
<circle cx="171.4" cy="1091.3" r="4" fill="#000"/>
<circle cx="183.3" cy="1074.5" r="4" fill="#000"/>
<circle cx="187.4" cy="1079" r="4" fill="#000"/>
<circle cx="181.9" cy="1092.3" r="4" fill="#000"/>
<circle cx="184.7" cy="1098.6" r="4" fill="#000"/>
<circle cx="192.3" cy="1100" r="4" fill="#000"/>
<circle cx="188.8" cy="1087.4" r="4" fill="#000"/>
<circle cx="197.2" cy="1073.4" r="4" fill="#000"/>
<circle cx="195.8" cy="1076.2" r="4" fill="#000"/>
<circle cx="204.9" cy="1072" r="4" fill="#000"/>
<circle cx="199.3" cy="1086" r="4" fill="#000"/>
<circle cx="200.7" cy="1091.6" r="4" fill="#000"/>
<circle cx="206.3" cy="1095.8" r="4" fill="#000"/>
<circle cx="204.9" cy="1099.3" r="4" fill="#000"/>
<circle cx="210.5" cy="1099.3" r="4" fill="#000"/>
<circle cx="214.7" cy="1078.3" r="4" fill="#000"/>
<circle cx="218.2" cy="1080.4" r="4" fill="#000"/>
<circle cx="217.5" cy="1091.6" r="4" fill="#000"/>
<circle cx="223.8" cy="1076.9" r="4" fill="#000"/>
<circle cx="226.6" cy="1087.4" r="4" fill="#000"/>
<circle cx="224.5" cy="1095.1" r="4" fill="#000"/>
<circle cx="231.5" cy="1078.3" r="4" fill="#000"/>
<circle cx="233.6" cy="1092.3" r="4" fill="#000"/>
<circle cx="232.2" cy="1097.2" r="4" fill="#000"/>
<circle cx="238.5" cy="1076.2" r="4" fill="#000"/>
<circle cx="244.1" cy="1072.7" r="4" fill="#000"/>
<circle cx="249.7" cy="1074.1" r="4" fill="#000"/>
<circle cx="253.9" cy="1078.3" r="4" fill="#000"/>
<circle cx="244.1" cy="1086.7" r="4" fill="#000"/>
<circle cx="249" cy="1088.1" r="4" fill="#000"/>
<circle cx="239.2" cy="1099.3" r="4" fill="#000"/>
<circle cx="244.1" cy="1101.4" r="4" fill="#000"/>
<circle cx="251.1" cy="1100" r="4" fill="#000"/>
<circle cx="268.6" cy="1071.3" r="4" fill="#000"/>
<circle cx="287.5" cy="1072.7" r="4" fill="#000"/>
<circle cx="295.2" cy="1079" r="4" fill="#000"/>
<circle cx="286.8" cy="1086.7" r="4" fill="#000"/>
<circle cx="270" cy="1089.5" r="4" fill="#000"/>
<circle cx="277" cy="1091.6" r="4" fill="#000"/>
<circle cx="272.8" cy="1097.2" r="4" fill="#000"/>
<circle cx="279.8" cy="1100.7" r="4" fill="#000"/>
<circle cx="290" cy="1100" r="4" fill="#000"/>
<circle cx="314.1" cy="1087.4" r="4" fill="#000"/>
<circle cx="319" cy="1087.4" r="4" fill="#000"/>
<circle cx="111.5" cy="1237.4" r="4" fill="#000"/>
<circle cx="115" cy="1248.6" r="4" fill="#000"/>
<circle cx="133.6" cy="1232.5" r="4" fill="#000"/>
<circle cx="130.8" cy="1240.9" r="4" fill="#000"/>
<circle cx="144.8" cy="1250.7" r="4" fill="#000"/>
<circle cx="154.6" cy="1237.4" r="4" fill="#000"/>
<circle cx="164.8" cy="1232.5" r="4" fill="#000"/>
<circle cx="174.2" cy="1233.9" r="4" fill="#000"/>
<circle cx="171.6" cy="1249.7" r="4" fill="#000"/>
<circle cx="183.5" cy="1222" r="4" fill="#000"/>
<circle cx="188.8" cy="1230.7" r="4" fill="#000"/>
<circle cx="186" cy="1238.5" r="4" fill="#000"/>
<circle cx="181.6" cy="1243.7" r="4" fill="#000"/>
<circle cx="188.8" cy="1248.9" r="4" fill="#000"/>
<circle cx="207.7" cy="1230" r="4" fill="#000"/>
<circle cx="208.4" cy="1244.4" r="4" fill="#000"/>
<circle cx="219.6" cy="1222.7" r="4" fill="#000"/>
<circle cx="224.5" cy="1222.7" r="4" fill="#000"/>
<circle cx="217.5" cy="1228.3" r="4" fill="#000"/>
<circle cx="217.5" cy="1233.2" r="4" fill="#000"/>
<circle cx="222.4" cy="1233.9" r="4" fill="#000"/>
<circle cx="231.5" cy="1224.1" r="4" fill="#000"/>
<circle cx="230.1" cy="1231.1" r="4" fill="#000"/>
<circle cx="220.3" cy="1244.4" r="4" fill="#000"/>
<circle cx="225.2" cy="1243.7" r="4" fill="#000"/>
<circle cx="218.9" cy="1247.2" r="4" fill="#000"/>
<circle cx="232.9" cy="1240.9" r="4" fill="#000"/>
<circle cx="239.2" cy="1236" r="4" fill="#000"/>
<circle cx="242" cy="1245.5" r="4" fill="#000"/>
<circle cx="253.9" cy="1233.9" r="4" fill="#000"/>
<circle cx="260.9" cy="1227.6" r="4" fill="#000"/>
<circle cx="259.5" cy="1234.6" r="4" fill="#000"/>
<circle cx="260.9" cy="1248.6" r="4" fill="#000"/>
<circle cx="270" cy="1240.2" r="4" fill="#000"/>
<circle cx="273.5" cy="1243.7" r="4" fill="#000"/>
<circle cx="268.6" cy="1245.8" r="4" fill="#000"/>
<circle cx="297.3" cy="1225.5" r="4" fill="#000"/>
<circle cx="299.8" cy="1232.9" r="4" fill="#000"/>
<circle cx="328.8" cy="1241.2" r="4" fill="#000"/>
<circle cx="156.8" cy="1397.2" r="4" fill="#000"/>
<circle cx="186" cy="1385.3" r="4" fill="#000"/>
<circle cx="218.1" cy="1383.5" r="4" fill="#000"/>
<circle cx="230" cy="1376.5" r="4" fill="#000"/>
<circle cx="234.2" cy="1371.6" r="4" fill="#000"/>
<circle cx="277.7" cy="1376.2" r="4" fill="#000"/>
<circle cx="321.1" cy="1384.2" r="4" fill="#000"/>
<circle cx="378.7" cy="1390.3" r="4" fill="#000"/>
<circle cx="393.9" cy="1388.1" r="4" fill="#000"/>
<circle cx="400.7" cy="1397.6" r="4" fill="#000"/>
<circle cx="437.3" cy="1394.8" r="4" fill="#000"/>
<circle cx="470.2" cy="1392.1" r="4" fill="#000"/>
<line x1="71.6" y1="1038.5" x2="71.6" y2="1435.13" stroke="#000" stroke-width="1.07"/>
<line x1="71.07" y1="1434.6" x2="488.4" y2="1434.6" stroke="#000" stroke-width="1.07"/>
<line x1="68.3" y1="1386.5" x2="71.6" y2="1386.5" stroke="#333" stroke-width="1.07"/>
<text x="66.4" y="1395" font-size="24.5" fill="#4d4d4d" textLength="34.74" lengthAdjust="spacingAndGlyphs" text-anchor="end">0.0</text>
<line x1="68.3" y1="1236.4" x2="71.6" y2="1236.4" stroke="#333" stroke-width="1.07"/>
<text x="66.4" y="1244.9" font-size="24.5" fill="#4d4d4d" textLength="34.74" lengthAdjust="spacingAndGlyphs" text-anchor="end">0.5</text>
<line x1="68.3" y1="1086.3" x2="71.6" y2="1086.3" stroke="#333" stroke-width="1.07"/>
<text x="66.4" y="1094.8" font-size="24.5" fill="#4d4d4d" textLength="34.74" lengthAdjust="spacingAndGlyphs" text-anchor="end">1.0</text>
<line x1="176.3" y1="1434.6" x2="176.3" y2="1437.9" stroke="#333" stroke-width="1.07"/>
<text x="176.3" y="1457.2" font-size="24.5" fill="#4d4d4d" textLength="41.69" lengthAdjust="spacingAndGlyphs" text-anchor="middle">500</text>
<line x1="296.7" y1="1434.6" x2="296.7" y2="1437.9" stroke="#333" stroke-width="1.07"/>
<text x="296.7" y="1457.2" font-size="24.5" fill="#4d4d4d" textLength="55.59" lengthAdjust="spacingAndGlyphs" text-anchor="middle">1000</text>
<line x1="417.1" y1="1434.6" x2="417.1" y2="1437.9" stroke="#333" stroke-width="1.07"/>
<text x="417.1" y="1457.2" font-size="24.5" fill="#4d4d4d" textLength="55.59" lengthAdjust="spacingAndGlyphs" text-anchor="middle">1500</text>
<text x="280" y="1487.3" font-size="27.9" fill="#000" textLength="214.91" lengthAdjust="spacingAndGlyphs" text-anchor="middle">maximum height</text>
<text x="22" y="1236.55" font-size="27.9" fill="#000" textLength="182.41" lengthAdjust="spacingAndGlyphs" text-anchor="middle" transform="rotate(-90 22 1236.55)">hb&#8211;chr2 allele</text>
<rect x="803" y="1056.8" width="76.3" height="59" fill="none" stroke="#e41a1c" stroke-width="1.8"/>
<line x1="841.4" y1="1055.9" x2="841.4" y2="1116.7" stroke="#e41a1c" stroke-width="4.3"/>
<rect x="760.4" y="1206.9" width="34.3" height="59" fill="none" stroke="#e41a1c" stroke-width="1.8"/>
<line x1="777.4" y1="1206" x2="777.4" y2="1266.8" stroke="#e41a1c" stroke-width="4.3"/>
<rect x="731.7" y="1357" width="9.5" height="59" fill="none" stroke="#e41a1c" stroke-width="1.8"/>
<line x1="736.8" y1="1356.1" x2="736.8" y2="1416.9" stroke="#e41a1c" stroke-width="4.3"/>
<circle cx="803.2" cy="1093" r="4" fill="#000"/>
<circle cx="880.9" cy="1097.2" r="4" fill="#000"/>
<circle cx="613.6" cy="1247.4" r="4" fill="#000"/>
<circle cx="630.4" cy="1240.1" r="4" fill="#000"/>
<circle cx="677.7" cy="1242.4" r="4" fill="#000"/>
<circle cx="696.1" cy="1232.3" r="4" fill="#000"/>
<circle cx="698.7" cy="1241.3" r="4" fill="#000"/>
<circle cx="728" cy="1244.9" r="4" fill="#000"/>
<circle cx="730.8" cy="1231.2" r="4" fill="#000"/>
<circle cx="745.9" cy="1238.6" r="4" fill="#000"/>
<circle cx="753.7" cy="1243.8" r="4" fill="#000"/>
<circle cx="762.3" cy="1235.9" r="4" fill="#000"/>
<circle cx="768.6" cy="1247.6" r="4" fill="#000"/>
<circle cx="790" cy="1222.8" r="4" fill="#000"/>
<circle cx="787.9" cy="1235.4" r="4" fill="#000"/>
<circle cx="793.1" cy="1233.3" r="4" fill="#000"/>
<circle cx="786.8" cy="1239.6" r="4" fill="#000"/>
<circle cx="785.8" cy="1243.8" r="4" fill="#000"/>
<circle cx="799.4" cy="1240.7" r="4" fill="#000"/>
<circle cx="806.8" cy="1231.2" r="4" fill="#000"/>
<circle cx="825.6" cy="1248.7" r="4" fill="#000"/>
<circle cx="876" cy="1221.8" r="4" fill="#000"/>
<circle cx="891.8" cy="1234.4" r="4" fill="#000"/>
<circle cx="950.5" cy="1232.9" r="4" fill="#000"/>
<circle cx="970.1" cy="1231.4" r="4" fill="#000"/>
<circle cx="590" cy="1378.3" r="4" fill="#000"/>
<circle cx="635.2" cy="1391.3" r="4" fill="#000"/>
<circle cx="671.6" cy="1379.4" r="4" fill="#000"/>
<circle cx="680.2" cy="1375.6" r="4" fill="#000"/>
<circle cx="680.8" cy="1378.8" r="4" fill="#000"/>
<circle cx="675.4" cy="1387.4" r="4" fill="#000"/>
<circle cx="679.7" cy="1389.1" r="4" fill="#000"/>
<circle cx="673.2" cy="1393.4" r="4" fill="#000"/>
<circle cx="674.8" cy="1396.6" r="4" fill="#000"/>
<circle cx="684" cy="1394.2" r="4" fill="#000"/>
<circle cx="691.5" cy="1380.5" r="4" fill="#000"/>
<circle cx="695.3" cy="1374" r="4" fill="#000"/>
<circle cx="699.1" cy="1370.2" r="4" fill="#000"/>
<circle cx="704.4" cy="1372.7" r="4" fill="#000"/>
<circle cx="701.2" cy="1382.6" r="4" fill="#000"/>
<circle cx="703.4" cy="1385.3" r="4" fill="#000"/>
<circle cx="693.1" cy="1391.8" r="4" fill="#000"/>
<circle cx="696.4" cy="1389.6" r="4" fill="#000"/>
<circle cx="701.2" cy="1394.4" r="4" fill="#000"/>
<circle cx="694.2" cy="1397.7" r="4" fill="#000"/>
<circle cx="716.3" cy="1371.8" r="4" fill="#000"/>
<circle cx="717.4" cy="1377.2" r="4" fill="#000"/>
<circle cx="722.2" cy="1372.4" r="4" fill="#000"/>
<circle cx="714.1" cy="1388" r="4" fill="#000"/>
<circle cx="717.4" cy="1389.6" r="4" fill="#000"/>
<circle cx="714.1" cy="1394.4" r="4" fill="#000"/>
<circle cx="720.6" cy="1391.2" r="4" fill="#000"/>
<circle cx="730.3" cy="1374" r="4" fill="#000"/>
<circle cx="732.4" cy="1379.4" r="4" fill="#000"/>
<circle cx="728.1" cy="1384.8" r="4" fill="#000"/>
<circle cx="731.9" cy="1389.1" r="4" fill="#000"/>
<circle cx="728.7" cy="1392.8" r="4" fill="#000"/>
<circle cx="728.7" cy="1400.4" r="4" fill="#000"/>
<circle cx="733.5" cy="1395.5" r="4" fill="#000"/>
<circle cx="741" cy="1375.1" r="4" fill="#000"/>
<circle cx="746.4" cy="1373.5" r="4" fill="#000"/>
<circle cx="751.8" cy="1372.9" r="4" fill="#000"/>
<circle cx="743.2" cy="1382.6" r="4" fill="#000"/>
<circle cx="738.9" cy="1388" r="4" fill="#000"/>
<circle cx="741.6" cy="1390.1" r="4" fill="#000"/>
<circle cx="738.9" cy="1400.9" r="4" fill="#000"/>
<circle cx="745.4" cy="1400.9" r="4" fill="#000"/>
<circle cx="750.7" cy="1393.4" r="4" fill="#000"/>
<circle cx="754" cy="1388" r="4" fill="#000"/>
<circle cx="758.8" cy="1384.2" r="4" fill="#000"/>
<circle cx="762.6" cy="1389.1" r="4" fill="#000"/>
<circle cx="761.5" cy="1395.5" r="4" fill="#000"/>
<circle cx="770.1" cy="1392.8" r="4" fill="#000"/>
<circle cx="787.3" cy="1372.9" r="4" fill="#000"/>
<circle cx="794.9" cy="1372.9" r="4" fill="#000"/>
<circle cx="784.1" cy="1378.3" r="4" fill="#000"/>
<circle cx="794.9" cy="1379.4" r="4" fill="#000"/>
<circle cx="786.3" cy="1384.2" r="4" fill="#000"/>
<circle cx="791.6" cy="1385.3" r="4" fill="#000"/>
<circle cx="788.4" cy="1394.4" r="4" fill="#000"/>
<circle cx="788.4" cy="1400.9" r="4" fill="#000"/>
<circle cx="792.7" cy="1400.4" r="4" fill="#000"/>
<circle cx="805.1" cy="1391.8" r="4" fill="#000"/>
<circle cx="822.9" cy="1376.1" r="4" fill="#000"/>
<circle cx="836.3" cy="1393.4" r="4" fill="#000"/>
<circle cx="828.8" cy="1400" r="4" fill="#000"/>
<circle cx="868.6" cy="1400.7" r="4" fill="#000"/>
<line x1="571.3" y1="1038.5" x2="571.3" y2="1435.13" stroke="#000" stroke-width="1.07"/>
<line x1="570.77" y1="1434.6" x2="988.2" y2="1434.6" stroke="#000" stroke-width="1.07"/>
<line x1="568" y1="1386.5" x2="571.3" y2="1386.5" stroke="#333" stroke-width="1.07"/>
<text x="566.1" y="1395" font-size="24.5" fill="#4d4d4d" textLength="34.74" lengthAdjust="spacingAndGlyphs" text-anchor="end">0.0</text>
<line x1="568" y1="1236.4" x2="571.3" y2="1236.4" stroke="#333" stroke-width="1.07"/>
<text x="566.1" y="1244.9" font-size="24.5" fill="#4d4d4d" textLength="34.74" lengthAdjust="spacingAndGlyphs" text-anchor="end">0.5</text>
<line x1="568" y1="1086.3" x2="571.3" y2="1086.3" stroke="#333" stroke-width="1.07"/>
<text x="566.1" y="1094.8" font-size="24.5" fill="#4d4d4d" textLength="34.74" lengthAdjust="spacingAndGlyphs" text-anchor="end">1.0</text>
<line x1="574.06" y1="1434.6" x2="574.06" y2="1437.9" stroke="#333" stroke-width="1.07"/>
<text x="574.06" y="1457.2" font-size="24.5" fill="#4d4d4d" textLength="27.80" lengthAdjust="spacingAndGlyphs" text-anchor="middle">75</text>
<line x1="658.3" y1="1434.6" x2="658.3" y2="1437.9" stroke="#333" stroke-width="1.07"/>
<text x="658.3" y="1457.2" font-size="24.5" fill="#4d4d4d" textLength="41.69" lengthAdjust="spacingAndGlyphs" text-anchor="middle">100</text>
<line x1="742.54" y1="1434.6" x2="742.54" y2="1437.9" stroke="#333" stroke-width="1.07"/>
<text x="742.54" y="1457.2" font-size="24.5" fill="#4d4d4d" textLength="41.69" lengthAdjust="spacingAndGlyphs" text-anchor="middle">125</text>
<line x1="826.78" y1="1434.6" x2="826.78" y2="1437.9" stroke="#333" stroke-width="1.07"/>
<text x="826.78" y="1457.2" font-size="24.5" fill="#4d4d4d" textLength="41.69" lengthAdjust="spacingAndGlyphs" text-anchor="middle">150</text>
<line x1="911.02" y1="1434.6" x2="911.02" y2="1437.9" stroke="#333" stroke-width="1.07"/>
<text x="911.02" y="1457.2" font-size="24.5" fill="#4d4d4d" textLength="41.69" lengthAdjust="spacingAndGlyphs" text-anchor="middle">175</text>
<text x="779.75" y="1487.3" font-size="27.9" fill="#000" textLength="174.25" lengthAdjust="spacingAndGlyphs" text-anchor="middle">flowering end</text>
<text x="521.7" y="1236.55" font-size="27.9" fill="#000" textLength="198.70" lengthAdjust="spacingAndGlyphs" text-anchor="middle" transform="rotate(-90 521.7 1236.55)">hb&#8211;chr5b allele</text>
<rect x="1201.7" y="1056.8" width="14.7" height="59" fill="none" stroke="#e41a1c" stroke-width="1.8"/>
<line x1="1208.8" y1="1055.9" x2="1208.8" y2="1116.7" stroke="#e41a1c" stroke-width="4.3"/>
<rect x="1213.8" y="1206.9" width="13" height="59" fill="none" stroke="#e41a1c" stroke-width="1.8"/>
<line x1="1220.6" y1="1206" x2="1220.6" y2="1266.8" stroke="#e41a1c" stroke-width="4.3"/>
<rect x="1249.8" y="1357" width="27.5" height="59" fill="none" stroke="#e41a1c" stroke-width="1.8"/>
<line x1="1263.1" y1="1356.1" x2="1263.1" y2="1416.9" stroke="#e41a1c" stroke-width="4.3"/>
<circle cx="1089.6" cy="1094.1" r="4" fill="#000"/>
<circle cx="1111.6" cy="1074.9" r="4" fill="#000"/>
<circle cx="1117.1" cy="1073" r="4" fill="#000"/>
<circle cx="1130.8" cy="1096.9" r="4" fill="#000"/>
<circle cx="1154.7" cy="1077.6" r="4" fill="#000"/>
<circle cx="1158" cy="1078.2" r="4" fill="#000"/>
<circle cx="1160.2" cy="1080.9" r="4" fill="#000"/>
<circle cx="1180.8" cy="1073" r="4" fill="#000"/>
<circle cx="1187.1" cy="1072.7" r="4" fill="#000"/>
<circle cx="1189" cy="1080.4" r="4" fill="#000"/>
<circle cx="1195.9" cy="1080.4" r="4" fill="#000"/>
<circle cx="1190.4" cy="1088.6" r="4" fill="#000"/>
<circle cx="1194.5" cy="1090.8" r="4" fill="#000"/>
<circle cx="1193.1" cy="1092.7" r="4" fill="#000"/>
<circle cx="1206.9" cy="1079" r="4" fill="#000"/>
<circle cx="1209.6" cy="1077.6" r="4" fill="#000"/>
<circle cx="1216.5" cy="1085.9" r="4" fill="#000"/>
<circle cx="1217.3" cy="1098.2" r="4" fill="#000"/>
<circle cx="1224.1" cy="1071.6" r="4" fill="#000"/>
<circle cx="1230.2" cy="1091.9" r="4" fill="#000"/>
<circle cx="1226.6" cy="1098.2" r="4" fill="#000"/>
<circle cx="1236.5" cy="1078.5" r="4" fill="#000"/>
<circle cx="1243.9" cy="1079.8" r="4" fill="#000"/>
<circle cx="1250.8" cy="1090" r="4" fill="#000"/>
<circle cx="1253.5" cy="1096.3" r="4" fill="#000"/>
<circle cx="1260.4" cy="1074.9" r="4" fill="#000"/>
<circle cx="1270" cy="1083.7" r="4" fill="#000"/>
<circle cx="1272.7" cy="1092.7" r="4" fill="#000"/>
<circle cx="1277.7" cy="1091.9" r="4" fill="#000"/>
<circle cx="1286.5" cy="1094.1" r="4" fill="#000"/>
<circle cx="1105.3" cy="1231.4" r="4" fill="#000"/>
<circle cx="1120.9" cy="1238.8" r="4" fill="#000"/>
<circle cx="1132.2" cy="1241" r="4" fill="#000"/>
<circle cx="1145.1" cy="1243.7" r="4" fill="#000"/>
<circle cx="1154.2" cy="1236.9" r="4" fill="#000"/>
<circle cx="1159.4" cy="1222.6" r="4" fill="#000"/>
<circle cx="1164.3" cy="1224.5" r="4" fill="#000"/>
<circle cx="1167.1" cy="1246.5" r="4" fill="#000"/>
<circle cx="1171.7" cy="1245.6" r="4" fill="#000"/>
<circle cx="1173.9" cy="1236.9" r="4" fill="#000"/>
<circle cx="1182.2" cy="1228.6" r="4" fill="#000"/>
<circle cx="1185.7" cy="1222.6" r="4" fill="#000"/>
<circle cx="1183.5" cy="1232.7" r="4" fill="#000"/>
<circle cx="1187.1" cy="1236.3" r="4" fill="#000"/>
<circle cx="1183.8" cy="1245.6" r="4" fill="#000"/>
<circle cx="1200.8" cy="1234.7" r="4" fill="#000"/>
<circle cx="1209.6" cy="1236.9" r="4" fill="#000"/>
<circle cx="1208.2" cy="1246.5" r="4" fill="#000"/>
<circle cx="1220" cy="1225.9" r="4" fill="#000"/>
<circle cx="1224.7" cy="1223.1" r="4" fill="#000"/>
<circle cx="1231.6" cy="1223.7" r="4" fill="#000"/>
<circle cx="1220" cy="1236.9" r="4" fill="#000"/>
<circle cx="1223.3" cy="1239.6" r="4" fill="#000"/>
<circle cx="1224.7" cy="1247.8" r="4" fill="#000"/>
<circle cx="1231.6" cy="1239.6" r="4" fill="#000"/>
<circle cx="1238.4" cy="1236.9" r="4" fill="#000"/>
<circle cx="1239.8" cy="1242.9" r="4" fill="#000"/>
<circle cx="1248" cy="1241" r="4" fill="#000"/>
<circle cx="1249.4" cy="1247.3" r="4" fill="#000"/>
<circle cx="1251.3" cy="1224.5" r="4" fill="#000"/>
<circle cx="1270" cy="1244.5" r="4" fill="#000"/>
<circle cx="1277.7" cy="1222.6" r="4" fill="#000"/>
<circle cx="1279.6" cy="1247.8" r="4" fill="#000"/>
<circle cx="1290" cy="1245.1" r="4" fill="#000"/>
<circle cx="1298.8" cy="1244.5" r="4" fill="#000"/>
<circle cx="1313.4" cy="1228.6" r="4" fill="#000"/>
<circle cx="1318.9" cy="1232.2" r="4" fill="#000"/>
<circle cx="1392.7" cy="1232.7" r="4" fill="#000"/>
<circle cx="1114.9" cy="1389.8" r="4" fill="#000"/>
<circle cx="1164.3" cy="1379" r="4" fill="#000"/>
<circle cx="1171.2" cy="1398" r="4" fill="#000"/>
<circle cx="1183.5" cy="1398.8" r="4" fill="#000"/>
<circle cx="1188.5" cy="1372.7" r="4" fill="#000"/>
<circle cx="1198.6" cy="1385.9" r="4" fill="#000"/>
<circle cx="1200.8" cy="1382.9" r="4" fill="#000"/>
<circle cx="1205.5" cy="1385.1" r="4" fill="#000"/>
<circle cx="1216.5" cy="1385.1" r="4" fill="#000"/>
<circle cx="1217.3" cy="1393.3" r="4" fill="#000"/>
<circle cx="1220.6" cy="1392" r="4" fill="#000"/>
<circle cx="1234.3" cy="1382.9" r="4" fill="#000"/>
<circle cx="1234.3" cy="1394.7" r="4" fill="#000"/>
<circle cx="1242" cy="1393.3" r="4" fill="#000"/>
<circle cx="1242" cy="1400.2" r="4" fill="#000"/>
<circle cx="1243.9" cy="1372.7" r="4" fill="#000"/>
<circle cx="1257.6" cy="1391.1" r="4" fill="#000"/>
<circle cx="1261.2" cy="1381.8" r="4" fill="#000"/>
<circle cx="1267.8" cy="1377.4" r="4" fill="#000"/>
<circle cx="1268.6" cy="1373.5" r="4" fill="#000"/>
<circle cx="1276" cy="1400.2" r="4" fill="#000"/>
<circle cx="1287.3" cy="1384.5" r="4" fill="#000"/>
<circle cx="1294.1" cy="1379" r="4" fill="#000"/>
<circle cx="1296.9" cy="1388.7" r="4" fill="#000"/>
<circle cx="1320.8" cy="1394.7" r="4" fill="#000"/>
<circle cx="1328.5" cy="1373.5" r="4" fill="#000"/>
<circle cx="1379.2" cy="1395.5" r="4" fill="#000"/>
<circle cx="1393.5" cy="1390.6" r="4" fill="#000"/>
<circle cx="1399.8" cy="1397.4" r="4" fill="#000"/>
<circle cx="1436.9" cy="1399.6" r="4" fill="#000"/>
<circle cx="1469.8" cy="1396.1" r="4" fill="#000"/>
<line x1="1070.7" y1="1038.5" x2="1070.7" y2="1435.13" stroke="#000" stroke-width="1.07"/>
<line x1="1070.17" y1="1434.6" x2="1488.2" y2="1434.6" stroke="#000" stroke-width="1.07"/>
<line x1="1067.4" y1="1386.5" x2="1070.7" y2="1386.5" stroke="#333" stroke-width="1.07"/>
<text x="1065.5" y="1395" font-size="24.5" fill="#4d4d4d" textLength="34.74" lengthAdjust="spacingAndGlyphs" text-anchor="end">0.0</text>
<line x1="1067.4" y1="1236.4" x2="1070.7" y2="1236.4" stroke="#333" stroke-width="1.07"/>
<text x="1065.5" y="1244.9" font-size="24.5" fill="#4d4d4d" textLength="34.74" lengthAdjust="spacingAndGlyphs" text-anchor="end">0.5</text>
<line x1="1067.4" y1="1086.3" x2="1070.7" y2="1086.3" stroke="#333" stroke-width="1.07"/>
<text x="1065.5" y="1094.8" font-size="24.5" fill="#4d4d4d" textLength="34.74" lengthAdjust="spacingAndGlyphs" text-anchor="end">1.0</text>
<line x1="1176.7" y1="1434.6" x2="1176.7" y2="1437.9" stroke="#333" stroke-width="1.07"/>
<text x="1176.7" y="1457.2" font-size="24.5" fill="#4d4d4d" textLength="41.69" lengthAdjust="spacingAndGlyphs" text-anchor="middle">500</text>
<line x1="1296.75" y1="1434.6" x2="1296.75" y2="1437.9" stroke="#333" stroke-width="1.07"/>
<text x="1296.75" y="1457.2" font-size="24.5" fill="#4d4d4d" textLength="55.59" lengthAdjust="spacingAndGlyphs" text-anchor="middle">1000</text>
<line x1="1416.8" y1="1434.6" x2="1416.8" y2="1437.9" stroke="#333" stroke-width="1.07"/>
<text x="1416.8" y="1457.2" font-size="24.5" fill="#4d4d4d" textLength="55.59" lengthAdjust="spacingAndGlyphs" text-anchor="middle">1500</text>
<text x="1279.45" y="1487.3" font-size="27.9" fill="#000" textLength="214.91" lengthAdjust="spacingAndGlyphs" text-anchor="middle">maximum height</text>
<text x="1021.1" y="1236.55" font-size="27.9" fill="#000" textLength="198.70" lengthAdjust="spacingAndGlyphs" text-anchor="middle" transform="rotate(-90 1021.1 1236.55)">hb&#8211;chr7b allele</text>
<rect x="1785.4" y="1056.8" width="18" height="59" fill="none" stroke="#e41a1c" stroke-width="1.8"/>
<line x1="1794.7" y1="1055.9" x2="1794.7" y2="1116.7" stroke="#e41a1c" stroke-width="4.3"/>
<rect x="1813.4" y="1206.9" width="22.4" height="59" fill="none" stroke="#e41a1c" stroke-width="1.8"/>
<line x1="1824.3" y1="1206" x2="1824.3" y2="1266.8" stroke="#e41a1c" stroke-width="4.3"/>
<rect x="1851.8" y="1357" width="43" height="59" fill="none" stroke="#e41a1c" stroke-width="1.8"/>
<line x1="1873.5" y1="1356.1" x2="1873.5" y2="1416.9" stroke="#e41a1c" stroke-width="4.3"/>
<circle cx="1589.7" cy="1087.9" r="4" fill="#000"/>
<circle cx="1617" cy="1074" r="4" fill="#000"/>
<circle cx="1628" cy="1074.8" r="4" fill="#000"/>
<circle cx="1621.2" cy="1086.4" r="4" fill="#000"/>
<circle cx="1618" cy="1094.9" r="4" fill="#000"/>
<circle cx="1637.2" cy="1080.3" r="4" fill="#000"/>
<circle cx="1634.4" cy="1082.5" r="4" fill="#000"/>
<circle cx="1649.1" cy="1073.9" r="4" fill="#000"/>
<circle cx="1645.6" cy="1093.4" r="4" fill="#000"/>
<circle cx="1671.8" cy="1088.6" r="4" fill="#000"/>
<circle cx="1674" cy="1092.2" r="4" fill="#000"/>
<circle cx="1693.2" cy="1078.1" r="4" fill="#000"/>
<circle cx="1691.9" cy="1098.5" r="4" fill="#000"/>
<circle cx="1711.3" cy="1091.8" r="4" fill="#000"/>
<circle cx="1750.4" cy="1071.3" r="4" fill="#000"/>
<circle cx="1768.2" cy="1082.8" r="4" fill="#000"/>
<circle cx="1785.5" cy="1073.8" r="4" fill="#000"/>
<circle cx="1786.8" cy="1082.1" r="4" fill="#000"/>
<circle cx="1782.5" cy="1087.4" r="4" fill="#000"/>
<circle cx="1783.1" cy="1089.6" r="4" fill="#000"/>
<circle cx="1790.1" cy="1092.3" r="4" fill="#000"/>
<circle cx="1783.1" cy="1097.1" r="4" fill="#000"/>
<circle cx="1791.1" cy="1099.8" r="4" fill="#000"/>
<circle cx="1799.2" cy="1070.8" r="4" fill="#000"/>
<circle cx="1808.9" cy="1072.9" r="4" fill="#000"/>
<circle cx="1803.5" cy="1078.3" r="4" fill="#000"/>
<circle cx="1799.2" cy="1086.9" r="4" fill="#000"/>
<circle cx="1800.3" cy="1097.1" r="4" fill="#000"/>
<circle cx="1828.3" cy="1074.5" r="4" fill="#000"/>
<circle cx="1827.2" cy="1079.4" r="4" fill="#000"/>
<circle cx="1829.3" cy="1081" r="4" fill="#000"/>
<circle cx="1838.5" cy="1072.9" r="4" fill="#000"/>
<circle cx="1846" cy="1070.8" r="4" fill="#000"/>
<circle cx="1846.6" cy="1079.4" r="4" fill="#000"/>
<circle cx="1854.1" cy="1077.2" r="4" fill="#000"/>
<circle cx="1859.5" cy="1081" r="4" fill="#000"/>
<circle cx="1869.2" cy="1078.3" r="4" fill="#000"/>
<circle cx="1870.2" cy="1070.8" r="4" fill="#000"/>
<circle cx="1868.1" cy="1085.3" r="4" fill="#000"/>
<circle cx="1830.4" cy="1088.5" r="4" fill="#000"/>
<circle cx="1825.6" cy="1091.2" r="4" fill="#000"/>
<circle cx="1844.4" cy="1089.1" r="4" fill="#000"/>
<circle cx="1848.7" cy="1093.4" r="4" fill="#000"/>
<circle cx="1858.4" cy="1090.1" r="4" fill="#000"/>
<circle cx="1864.9" cy="1094.4" r="4" fill="#000"/>
<circle cx="1873.5" cy="1097.1" r="4" fill="#000"/>
<circle cx="1826.1" cy="1099.3" r="4" fill="#000"/>
<circle cx="1831.5" cy="1098.8" r="4" fill="#000"/>
<circle cx="1839.6" cy="1100.9" r="4" fill="#000"/>
<circle cx="1841.2" cy="1092.3" r="4" fill="#000"/>
<circle cx="1891.2" cy="1080.5" r="4" fill="#000"/>
<circle cx="1904.7" cy="1098.2" r="4" fill="#000"/>
<circle cx="1932.7" cy="1082.1" r="4" fill="#000"/>
<circle cx="1628.6" cy="1225.3" r="4" fill="#000"/>
<circle cx="1672.5" cy="1242.9" r="4" fill="#000"/>
<circle cx="1689" cy="1244.5" r="4" fill="#000"/>
<circle cx="1696.4" cy="1240.4" r="4" fill="#000"/>
<circle cx="1706.3" cy="1245.6" r="4" fill="#000"/>
<circle cx="1751.6" cy="1238.8" r="4" fill="#000"/>
<circle cx="1770.5" cy="1226.7" r="4" fill="#000"/>
<circle cx="1766.7" cy="1249.2" r="4" fill="#000"/>
<circle cx="1786.4" cy="1248.4" r="4" fill="#000"/>
<circle cx="1789.2" cy="1250.6" r="4" fill="#000"/>
<circle cx="1819.4" cy="1237.7" r="4" fill="#000"/>
<circle cx="1829.8" cy="1222.6" r="4" fill="#000"/>
<circle cx="1827.1" cy="1245.6" r="4" fill="#000"/>
<circle cx="1830.9" cy="1230" r="4" fill="#000"/>
<circle cx="1841.9" cy="1233.3" r="4" fill="#000"/>
<circle cx="1842.7" cy="1246.5" r="4" fill="#000"/>
<circle cx="1846.8" cy="1240.4" r="4" fill="#000"/>
<circle cx="1851.5" cy="1229.2" r="4" fill="#000"/>
<circle cx="1857.3" cy="1230.5" r="4" fill="#000"/>
<circle cx="1861.4" cy="1223.1" r="4" fill="#000"/>
<circle cx="1862.8" cy="1236.9" r="4" fill="#000"/>
<circle cx="1865.5" cy="1228.6" r="4" fill="#000"/>
<circle cx="1866.6" cy="1234.1" r="4" fill="#000"/>
<circle cx="1864.7" cy="1241" r="4" fill="#000"/>
<circle cx="1867.4" cy="1245.1" r="4" fill="#000"/>
<circle cx="1868.8" cy="1250.6" r="4" fill="#000"/>
<circle cx="1877.8" cy="1236.9" r="4" fill="#000"/>
<circle cx="1878.4" cy="1239.6" r="4" fill="#000"/>
<circle cx="1901.7" cy="1223.7" r="4" fill="#000"/>
<circle cx="1950.6" cy="1226.4" r="4" fill="#000"/>
<circle cx="1955.8" cy="1247.3" r="4" fill="#000"/>
<circle cx="1690.9" cy="1382.9" r="4" fill="#000"/>
<circle cx="1802.1" cy="1395.2" r="4" fill="#000"/>
<circle cx="1827.6" cy="1400.2" r="4" fill="#000"/>
<circle cx="1829.8" cy="1400.2" r="4" fill="#000"/>
<circle cx="1856.4" cy="1391.4" r="4" fill="#000"/>
<circle cx="1863.8" cy="1391.4" r="4" fill="#000"/>
<circle cx="1870.2" cy="1386.5" r="4" fill="#000"/>
<circle cx="1871.5" cy="1391.1" r="4" fill="#000"/>
<circle cx="1879.8" cy="1387.8" r="4" fill="#000"/>
<circle cx="1957.5" cy="1386.5" r="4" fill="#000"/>
<circle cx="1969" cy="1374.1" r="4" fill="#000"/>
<circle cx="1970.4" cy="1393.3" r="4" fill="#000"/>
<circle cx="1962.9" cy="1399.6" r="4" fill="#000"/>
<line x1="1571" y1="1038.5" x2="1571" y2="1435.13" stroke="#000" stroke-width="1.07"/>
<line x1="1570.47" y1="1434.6" x2="1990" y2="1434.6" stroke="#000" stroke-width="1.07"/>
<line x1="1567.7" y1="1386.5" x2="1571" y2="1386.5" stroke="#333" stroke-width="1.07"/>
<text x="1565.8" y="1395" font-size="24.5" fill="#4d4d4d" textLength="34.74" lengthAdjust="spacingAndGlyphs" text-anchor="end">0.0</text>
<line x1="1567.7" y1="1236.4" x2="1571" y2="1236.4" stroke="#333" stroke-width="1.07"/>
<text x="1565.8" y="1244.9" font-size="24.5" fill="#4d4d4d" textLength="34.74" lengthAdjust="spacingAndGlyphs" text-anchor="end">0.5</text>
<line x1="1567.7" y1="1086.3" x2="1571" y2="1086.3" stroke="#333" stroke-width="1.07"/>
<text x="1565.8" y="1094.8" font-size="24.5" fill="#4d4d4d" textLength="34.74" lengthAdjust="spacingAndGlyphs" text-anchor="end">1.0</text>
<line x1="1612.1" y1="1434.6" x2="1612.1" y2="1437.9" stroke="#333" stroke-width="1.07"/>
<text x="1612.1" y="1457.2" font-size="24.5" fill="#4d4d4d" textLength="13.90" lengthAdjust="spacingAndGlyphs" text-anchor="middle">0</text>
<line x1="1748.25" y1="1434.6" x2="1748.25" y2="1437.9" stroke="#333" stroke-width="1.07"/>
<text x="1748.25" y="1457.2" font-size="24.5" fill="#4d4d4d" textLength="27.80" lengthAdjust="spacingAndGlyphs" text-anchor="middle">50</text>
<line x1="1884.4" y1="1434.6" x2="1884.4" y2="1437.9" stroke="#333" stroke-width="1.07"/>
<text x="1884.4" y="1457.2" font-size="24.5" fill="#4d4d4d" textLength="41.69" lengthAdjust="spacingAndGlyphs" text-anchor="middle">100</text>
<text x="1780.5" y="1487.3" font-size="27.9" fill="#000" textLength="197.04" lengthAdjust="spacingAndGlyphs" text-anchor="middle">flowering onset</text>
<text x="1521.4" y="1236.55" font-size="27.9" fill="#000" textLength="214.99" lengthAdjust="spacingAndGlyphs" text-anchor="middle" transform="rotate(-90 1521.4 1236.55)">hb&#8211;chr16b allele</text>
<defs><clipPath id="mapclip"><rect x="71.3" y="1545.7" width="1764.5" height="522.6000000000001"/></clipPath></defs>
<g clip-path="url(#mapclip)">
<path d="M71 1546 L316.4 1546 L311 1551.4 L305.7 1563.2 L304 1580.4 L307.8 1585.8 L319.7 1585.8 L322.9 1593.4 L327.2 1608.4 L342.3 1606.3 L350.9 1608.4 L363.8 1612.7 L375.6 1622.4 L393.9 1627.8 L400.4 1633.2 L424.1 1634.3 L429.5 1638.6 L428.4 1647.2 L430.2 1662.3 L435.6 1673 L447.4 1686 L453.9 1688.1 L461.4 1683.8 L465.7 1675.2 L463.6 1666.6 L459.3 1649.3 L455 1641.8 L460 1639.7 L466.5 1638 L476.1 1631.6 L484.2 1621.9 L485.8 1612.2 L482.6 1600.9 L476.1 1592.8 L466.5 1588 L467.3 1584 L472.1 1576.7 L476.1 1570.2 L475.3 1563.8 L464.8 1558.9 L472.1 1554 L472.9 1546 L534.3 1546 L535.9 1552.5 L550.4 1554.9 L556.9 1555.7 L557.7 1558.1 L555.3 1562.1 L556.1 1575.1 L558.5 1581.5 L565 1584.8 L574.6 1592 L586 1588 L594 1581.5 L597.3 1571.8 L603.7 1562.1 L606.9 1563.8 L615 1576.7 L621.5 1586.4 L629.5 1596 L635.2 1605.7 L638.4 1612.2 L639.2 1620.3 L648.9 1630 L660.2 1634.8 L671.5 1639.7 L678 1642.9 L671.3 1647.4 L679.4 1651 L681 1655.8 L689.1 1654.2 L693.9 1659 L694.7 1668.7 L695.6 1675.2 L689.6 1682.1 L680.9 1685.9 L668.9 1688.1 L665.4 1689.8 L660.3 1695.8 L653.4 1701.9 L634.4 1703.6 L617.2 1702.3 L610.4 1702 L591 1702.3 L584.6 1704.9 L581.4 1707.4 L579.4 1713.9 L571.7 1715.8 L565.2 1719.7 L560 1724.9 L554.9 1731.3 L547.1 1743 L547.6 1743.4 L556.2 1733.9 L565.2 1726.8 L578.1 1719.7 L591 1715.2 L600.7 1715.5 L608.5 1719.1 L609.8 1723.6 L608.5 1727.5 L604 1730.7 L597.5 1732.6 L590.4 1731.7 L594.9 1734.6 L596.2 1736.5 L600.1 1735.2 L604 1735.2 L607.2 1732.6 L605.9 1736.5 L604 1739.1 L601.4 1743 L600.7 1744.9 L603.3 1745.5 L604 1749.4 L606.5 1755.2 L610.4 1757.2 L613.7 1758.5 L614.9 1760.4 L620.1 1761.7 L626.6 1763.6 L633 1761.7 L635 1763.6 L637.9 1757 L642.2 1750.1 L646.9 1745.8 L649.1 1749.2 L648.2 1755.3 L653.4 1757.8 L653.8 1760.4 L648.2 1763.9 L643.1 1764.7 L640.5 1767.3 L641.3 1769.9 L629.8 1774 L619.9 1777.5 L610.4 1781.7 L609.2 1784 L600.6 1791.5 L596.3 1793.1 L590.9 1789.4 L589.8 1784 L588.7 1781.8 L593 1778.6 L599.5 1775.4 L602.7 1768.8 L606.9 1763.3 L606.5 1763 L600.7 1767.5 L591 1770.7 L584.6 1772.7 L582 1773.3 L584.4 1777.5 L574.7 1779.7 L565 1782.9 L561.8 1785.1 L555.3 1788.3 L550 1791.5 L545.7 1798 L544.6 1804.4 L545.7 1806.6 L543.5 1810.9 L546.7 1815.2 L548.9 1813.1 L551 1813.1 L553.2 1817.4 L547.8 1820.6 L544.6 1822.7 L540.3 1821.7 L533.8 1826 L527.4 1825.4 L520.9 1828.1 L512.3 1830.3 L509.1 1833.5 L512.3 1835.7 L511.2 1843.2 L508 1848.6 L502.6 1855 L497 1851.5 L501.5 1857.2 L501.5 1863.6 L498.3 1870.1 L495.1 1873.3 L491.8 1878.7 L491.3 1880.9 L489.7 1883 L492.9 1886.3 L495.1 1892.7 L497.3 1898 L496.5 1904.8 L492 1908 L489.8 1910.1 L486.6 1914.4 L480.1 1915.5 L473.6 1920.9 L471.5 1924.1 L466.1 1925.2 L461.8 1929.5 L458.6 1934.9 L454.3 1938.1 L447.8 1943.5 L443.5 1947.8 L440.3 1953.2 L438.1 1960.7 L437.1 1968.3 L438.7 1976.9 L441.4 1984.4 L444.6 1993 L446.7 1998.4 L447.8 2007 L451 2018.9 L451.6 2028.5 L450 2036.1 L447.8 2041.5 L443.5 2043.6 L440.3 2042.5 L438.1 2038.2 L433.8 2030.7 L430.6 2025.3 L429.5 2022.1 L425.2 2012.4 L423.1 2007 L423.6 1996.3 L424.1 1990.9 L418.8 1985.5 L413.4 1979 L409.1 1976.9 L403.7 1980.1 L401.5 1982.3 L397.2 1981.2 L395.1 1975.8 L386.5 1972.6 L380 1973.6 L374.1 1972 L363.8 1973.7 L355.2 1977.1 L362.1 1987.5 L356.9 1990.9 L350 1987.5 L343.1 1989.2 L332.8 1982.3 L319 1981.4 L308.7 1984 L300.1 1990.9 L288 1997.8 L279.4 2006.4 L277.7 2015 L279.4 2032.2 L276 2049.5 L274.2 2068.5 L184.7 2068.5 L167.5 2046 L157.1 2037.4 L157.1 2025.3 L143.3 2006.4 L126.1 1987.5 L119.2 1963.3 L110.6 1958.2 L103.7 1954.7 L102 1959.9 L105.4 1973.7 L114.1 1985.7 L121 1997.8 L127.8 2011.6 L136.4 2023.6 L139.9 2037.4 L145.1 2046 L152 2056.4 L157.1 2068.5 L148.5 2068.5 L139.9 2058.1 L129.6 2049.5 L127.8 2039.1 L121 2025.3 L114.1 2021.9 L100.3 2006.4 L98.6 2001.2 L105.4 1997.8 L96.8 1984 L91.7 1978.8 L86.5 1961.6 L77.9 1939.2 L71 1928.9Z M697.3 1683.8 L694.3 1687.2 L694.7 1690.7 L691.3 1695.8 L687.8 1701 L684.4 1708.8 L690.4 1703.6 L697.3 1705.3 L694.7 1708.8 L695.6 1712.2 L699.9 1712.2 L700.8 1714.8 L703.3 1710.9 L707.2 1710.9 L708.5 1713.5 L713.7 1713.1 L717.1 1715.6 L715.4 1721.7 L722.3 1723.8 L720.6 1726.8 L716.3 1730.3 L714.5 1735.4 L724 1730.3 L726.2 1738 L724 1745.8 L721.4 1750.9 L716.7 1751.4 L715.4 1744.9 L711.1 1748.4 L709.4 1740.6 L706.8 1741.5 L703.3 1738 L699.9 1740.6 L698.2 1746.6 L693 1747.5 L692.1 1744.9 L698.2 1739.8 L693 1736.3 L690.4 1738.9 L684.4 1738.5 L673.2 1738.5 L660.3 1738.9 L658.6 1733.7 L666.3 1726.8 L660.3 1726 L663.7 1722.5 L668 1718.2 L669.8 1713.1 L673.2 1708.8 L677.5 1697.6 L682.7 1689.8 L687 1686.4 L693 1684.2Z M607.3 1706.6 L617.2 1707.9 L625.8 1711.3 L633.6 1714.8 L635.3 1717.4 L629.3 1718.2 L617.2 1713.9 L614.6 1711.3 L608.6 1709.2Z M608.6 1750.1 L612.1 1745.8 L612.9 1750.1 L617.2 1752.7 L631 1753.5 L628.4 1756.1 L625.8 1760.4 L621.5 1758.7 L615.5 1757 L610.3 1752.7Z M759.3 1545.7 L763.3 1550.8 L771.4 1558.1 L779.5 1558.1 L789.2 1558.9 L798.9 1565.4 L811.8 1571 L821.5 1568.6 L823.1 1562.1 L826.3 1557.3 L829.5 1545.7Z M511.2 1833.5 L520.9 1828.7 L530.6 1826 L532.7 1827.1 L525.2 1830.3 L515.5 1833.5 L511.2 1834.6Z M430.5 1663 L437 1661 L444.5 1664.5 L442 1668.7 L433 1666.5Z M450 1620 L456 1614 L462 1613 L465 1617 L460 1622 L453 1625.5 L449.9 1624Z M447.7 1573 L452 1569.7 L456.4 1570.5 L451 1574Z M469 1558 L474 1556 L475.5 1560 L471 1561Z M469.3 2042.5 L472.6 2047.9 L473.6 2054.4 L475.8 2058.7 L474.7 2063 L471.5 2061.9 L470.4 2054.4 L467.2 2050.1Z M461.3 2022.1 L466.1 2021 L472.6 2022.6 L466.1 2024.3 L462.9 2024.8Z M472.6 2019.4 L476.9 2021 L481.2 2026.4 L480.1 2032.8 L478 2031.8 L478 2025.3 L473.6 2021Z M483.9 2038.2 L488.7 2041.5 L490.9 2045.8 L489.8 2050.1 L488.7 2048 L487.6 2042.5Z M494 2049 L496 2050 L498.5 2056 L497 2057 L494.5 2052Z M491 2062 L494 2064 L493.5 2065.5 L490.5 2063.5Z M498 2063 L500 2064 L501 2068.3 L499 2068.3Z M505.5 2056.5 L507 2057 L506 2059.5 L505 2059Z M545.5 1822.5 L548 1822.3 L548.3 1823.5 L545.7 1823.8Z M550.5 1823.4 L552.5 1823.5 L552.3 1824.8 L550.5 1824.6Z M1084 1540 L1840 1540 L1840 2075 L1084 2075Z" fill="#bebebe"/>
<path d="M489.7 1883 L487.5 1880.5 L485.5 1876 L484 1870 L483 1866 L485.5 1866.5 L486.5 1871 L488.5 1875 L490.5 1878.5 L491.3 1880.9Z M502.6 1855 L499.5 1853.5 L497 1851.5 L496 1849.8 L498.5 1850.5 L501 1852.3Z M491 1895 L494 1893.5 L495.5 1897 L495.5 1903 L493 1905 L491.5 1900Z M1070 1530 L1303 1530 L1302.3 1554.4 L1303.7 1564.2 L1305.1 1574 L1306.5 1579.6 L1309.3 1583.8 L1309.3 1589.4 L1314.9 1593.6 L1321.9 1595.7 L1333.1 1594.3 L1341.5 1590.8 L1349.9 1585.2 L1358.3 1581 L1359.7 1576.8 L1363.9 1581 L1366.7 1589.4 L1369.5 1596.4 L1375.1 1607.6 L1380.7 1616 L1383.5 1624.4 L1385.6 1632.8 L1394 1631.4 L1398.2 1627.2 L1402.4 1623 L1413.6 1621.6 L1417.8 1618.8 L1420.6 1604.8 L1422 1596.4 L1424.8 1588 L1438.8 1581 L1443 1574 L1444.4 1569.8 L1436 1561.4 L1427.6 1558.6 L1426.9 1530 L1469.6 1530 L1468.2 1554.4 L1466.8 1560 L1475.2 1564.2 L1483.6 1569.8 L1486.4 1571.9 L1498.9 1568.4 L1519.9 1564.2 L1539.5 1561.4 L1554.9 1569.8 L1533.9 1576.1 L1519.9 1574.7 L1510.1 1574.7 L1498.9 1576.1 L1490.5 1579.6 L1489.2 1586.6 L1492 1590.8 L1498.9 1592.2 L1497.5 1604.8 L1491.9 1609.7 L1486.4 1604.8 L1480.8 1599.9 L1471 1602 L1466.8 1610.4 L1464.7 1618.8 L1465.4 1630 L1462.6 1635.6 L1455.6 1638.4 L1450 1644 L1444.4 1646.1 L1440.2 1641.2 L1433.2 1639.1 L1422 1641.2 L1415 1645.4 L1398.2 1651 L1392.6 1648.2 L1387 1644 L1377.9 1644 L1363.9 1649.6 L1358.3 1648.2 L1349.9 1644 L1352.7 1635.6 L1351.3 1630 L1354.1 1624.4 L1356.9 1623 L1361.1 1617.4 L1356.9 1613.2 L1359.7 1604.8 L1358.3 1600.6 L1349.9 1603.4 L1341.5 1607.6 L1335.9 1611.8 L1335.9 1618.8 L1337.3 1630 L1335.9 1635.6 L1338.7 1641.2 L1342.9 1644 L1341.5 1652.4 L1335.9 1655.2 L1321.9 1656.6 L1307.9 1659.4 L1300.9 1664.9 L1293.9 1676.1 L1288.3 1684.5 L1279.9 1687.3 L1268.7 1691.5 L1268.7 1700 L1263.1 1704.2 L1254.7 1708.4 L1240.8 1709.8 L1236.6 1711.2 L1238 1718.2 L1236.6 1722.4 L1224 1721.7 L1214.2 1723.8 L1207.2 1725.9 L1208.6 1732.2 L1218.4 1735 L1229.6 1740.6 L1232.4 1747.6 L1238 1754.6 L1240.8 1758.8 L1240.8 1764.4 L1243.6 1768.6 L1242.2 1775.6 L1240.8 1784 L1239.4 1792.4 L1236.6 1795.2 L1224 1793.8 L1210 1793.8 L1196 1792.4 L1177.8 1790.3 L1168 1795.2 L1161.7 1799.4 L1162.4 1806.4 L1165.2 1812 L1166.6 1826 L1163.8 1839.9 L1159.6 1849.7 L1159.1 1858.1 L1164 1862.9 L1165.6 1874.2 L1164 1882.3 L1173.7 1882.3 L1183.3 1880.7 L1189.8 1887.1 L1193 1893.6 L1197 1896.5 L1193 1901.7 L1186.6 1919.4 L1176.9 1927.5 L1167.2 1934 L1160.7 1943.7 L1155.9 1956.6 L1155.1 1969.5 L1155.9 1974.3 L1151 1984 L1141.4 1995.3 L1133.3 2001.8 L1123.6 2005 L1118.8 2017.9 L1117.1 2021.2 L1109.1 2029.2 L1105.8 2038.9 L1104.2 2051.8 L1094.5 2061.5 L1092.9 2080 L1070 2080Z M1199.5 1896 L1201.1 1892 L1209.2 1887.9 L1220.5 1886.3 L1231.8 1885.5 L1235 1880.7 L1241.5 1875.8 L1246.3 1872.6 L1247.9 1866.1 L1251.2 1861.3 L1256 1857.3 L1252 1849.7 L1252 1845.5 L1258.9 1835.7 L1263.1 1828.7 L1274.3 1823.1 L1285.5 1814.7 L1286.9 1809.2 L1285.5 1802.2 L1291.1 1796.6 L1300.9 1793.8 L1307.9 1798 L1316.3 1799.4 L1321.9 1795.2 L1333.1 1789.6 L1341.3 1782.1 L1348.8 1784.4 L1355.6 1788.2 L1357.1 1794.2 L1358.6 1800.2 L1364.7 1807.7 L1372.2 1813.8 L1379.7 1821.3 L1385.8 1824.3 L1391.8 1825.1 L1395.6 1831.1 L1402.3 1832.6 L1403.8 1837.9 L1409.9 1840.9 L1412.9 1846.9 L1415.1 1855.2 L1413.6 1859 L1412.9 1864.3 L1411.4 1869.5 L1415.1 1869.5 L1419.7 1862.8 L1420.4 1859 L1425.7 1854.5 L1425.7 1848.4 L1420.4 1845.4 L1420.4 1841.7 L1424.2 1835.6 L1428 1836.4 L1434 1840.1 L1437 1843.9 L1439.3 1840.9 L1438.5 1837.1 L1434 1831.9 L1426.5 1827.3 L1414.4 1820.6 L1415.9 1816 L1412.9 1814.5 L1405.4 1813.8 L1397.8 1808.5 L1393.3 1800.2 L1390.3 1792.7 L1382.7 1787.4 L1378.2 1782.1 L1377.5 1776.9 L1379 1772.3 L1378.2 1769.3 L1382.7 1765.5 L1390.3 1764 L1389.5 1766.3 L1390.3 1770.1 L1393.3 1775.3 L1395.6 1773.8 L1398.6 1770.8 L1398.6 1777.6 L1402.3 1782.1 L1404.6 1785.9 L1409.1 1789.7 L1414.4 1794.2 L1420.4 1798 L1428 1803.2 L1435.5 1807.7 L1443 1812.3 L1449.1 1817.5 L1447.6 1824.3 L1447.6 1830.4 L1447.6 1836.4 L1452.1 1843.2 L1453.6 1848.4 L1458.1 1853 L1461.9 1856 L1465.6 1859 L1467.9 1864.3 L1470.8 1874.3 L1473.6 1882.7 L1476.4 1886.9 L1479.2 1885.5 L1482 1888.3 L1484.8 1892.5 L1487.5 1885.5 L1488.9 1878.5 L1486.1 1874.3 L1491.7 1872.9 L1496 1870.1 L1494.5 1866 L1489 1861.7 L1484.8 1856.1 L1486.1 1852 L1482 1847.8 L1482 1838 L1486.1 1836.6 L1490.3 1840.8 L1493.1 1838 L1496 1836.6 L1498.7 1833.8 L1502.9 1831 L1510 1833.8 L1517 1835.2 L1522.5 1835.2 L1517 1838 L1518.3 1846.4 L1522.5 1852 L1521.1 1860.3 L1523.9 1865.9 L1525.3 1874.3 L1528.1 1879.9 L1533.7 1884.1 L1537.9 1885.5 L1541.9 1884.2 L1546.1 1889.8 L1551.7 1894 L1558.7 1892.6 L1560.1 1887 L1562.9 1885.6 L1575.5 1891.2 L1581.1 1895.4 L1589.5 1894 L1596.5 1889.8 L1600.7 1885.6 L1609.1 1888.4 L1616.1 1885.6 L1613.3 1901 L1613.3 1915 L1609.1 1926.2 L1603.5 1943 L1597.9 1955.6 L1590.9 1961.2 L1581.1 1962.6 L1574.1 1958.4 L1567.1 1955.6 L1558.7 1957 L1546.1 1965.4 L1527.9 1959.8 L1513.9 1955.6 L1506.9 1955.6 L1502.7 1950.7 L1488.7 1947.2 L1485.9 1943 L1480.3 1939.5 L1469.2 1937.4 L1458 1943 L1453.8 1950 L1455.2 1959.8 L1452.4 1966.8 L1445.4 1973.1 L1438.4 1969.6 L1430 1964 L1418.8 1960.5 L1410.4 1955.6 L1406.2 1945.8 L1396.4 1941.6 L1385.2 1938.1 L1374 1936 L1364.2 1931.8 L1361 1927.5 L1356.1 1921 L1364.2 1906.5 L1361 1898.4 L1359.3 1890.4 L1364.2 1882.3 L1357.7 1883.9 L1354.5 1878.3 L1344.8 1879.1 L1331.9 1883.1 L1319 1881.5 L1306.1 1885.5 L1293.1 1883.9 L1281.8 1885.5 L1265.7 1888.8 L1256 1892 L1251.2 1896.8 L1241.5 1901.7 L1235 1907.3 L1225.3 1907.3 L1222.1 1905.7 L1209.2 1906.5 L1202.7 1903.3 L1199.5 1898.4Z M1563.9 1752.6 L1574.2 1752 L1571.7 1755.2 L1582 1758.4 L1590.4 1760.4 L1580.7 1767.5 L1589.7 1772.6 L1591 1780.4 L1594.9 1781.7 L1602.7 1776.5 L1610.4 1772.6 L1613 1768.7 L1619.5 1767.5 L1623.3 1771.3 L1629.8 1776.5 L1636.2 1781.7 L1642.7 1784.2 L1649.2 1789.4 L1656.9 1797.2 L1664.7 1801 L1669.8 1806.2 L1672.4 1815.2 L1668.5 1821.7 L1659.5 1826.9 L1649.2 1826.2 L1638.8 1827.5 L1629.8 1825.6 L1620.7 1823 L1616.9 1819.1 L1610.4 1817.8 L1605.2 1813.3 L1597.5 1814 L1587.2 1814 L1578.1 1815.9 L1569.1 1823 L1561.3 1825.6 L1545.8 1824.3 L1536.8 1819.1 L1534.2 1812.7 L1531.6 1807.5 L1534.2 1802.3 L1535.5 1797.2 L1539.4 1794.6 L1542 1786.8 L1543.2 1776.5 L1549.7 1773.9 L1552.3 1764.9 L1558.8 1759.7Z M1604 1757.1 L1610.4 1753.2 L1623.3 1749.4 L1633.7 1745.5 L1647.2 1743.6 L1641.4 1746.8 L1633.7 1752 L1637.5 1757.1 L1633.7 1759.7 L1631.1 1766.2 L1623.3 1768.7 L1619.5 1767.5 L1613 1768.1 L1609.1 1766.2Z M1523.9 1834.6 L1532.9 1828.2 L1543.2 1829.5 L1548.4 1832 L1539.4 1835.3 L1530.3 1835.9Z M1767 1745.4 L1773 1748 L1779.9 1747.5 L1785.9 1749.7 L1785.9 1758.2 L1783.3 1765.9 L1785 1768.5 L1779.9 1767.2 L1770.5 1768.1 L1766.2 1773.6 L1767 1779.2 L1759.3 1778.8 L1758.1 1782.2 L1763.6 1784.7 L1767 1792.4 L1768.3 1798.4 L1773 1800.1 L1775.6 1803.1 L1780.7 1804.4 L1779.9 1813.8 L1781.6 1820.7 L1784.6 1825 L1785.9 1815.5 L1792.7 1813.4 L1795.3 1821.5 L1801.3 1827.5 L1794.4 1831.4 L1788.4 1829.2 L1784.6 1827.5 L1782.4 1836.9 L1785 1843.8 L1788.4 1842.9 L1787.6 1851.5 L1792.7 1854.9 L1793.6 1866.9 L1794.9 1883.1 L1786.7 1884 L1775.6 1887.4 L1765.3 1884 L1758.5 1878 L1747.4 1875.4 L1744.8 1866.9 L1744.8 1854.9 L1748.2 1851.5 L1749.9 1841.2 L1752.5 1837.8 L1759.3 1836.9 L1755.9 1833.5 L1750.8 1830.9 L1746.5 1823.2 L1739.7 1814.7 L1732.8 1804.4 L1730.7 1798.4 L1731.1 1789 L1728.6 1783.9 L1723.4 1779.6 L1730.3 1765.9 L1735.4 1764.2 L1742.2 1759.9 L1749.9 1753.1 L1758.5 1748.8Z M1579.6 1980.2 L1587.1 1996 L1596.2 2008.1 L1598.5 2006.5 L1603.7 1985.5 L1600.5 2005 L1605.2 2005.1 L1612.7 2015.6 L1620.3 2030.7 L1624.8 2042.7 L1630.8 2054.8 L1639.9 2070 L1611.2 2070 L1611.2 2059.3 L1605.2 2048.8 L1599.2 2033.7 L1594.7 2023.2 L1591.6 2009.6 L1589 2004 L1581 1988Z M1734.8 1984 L1745.3 1974.9 L1755.9 1976.4 L1760.4 1985.5 L1764.9 1994.5 L1769.5 2005.1 L1778.5 2011.1 L1790.6 2021.7 L1801.1 2024.7 L1810.1 2020.1 L1819.2 2017.1 L1823.7 2021.7 L1826.7 2033.7 L1835.8 2036.7 L1840 2036.7 L1840 2063 L1835.8 2062.3 L1825.2 2059.3 L1819.2 2048.8 L1819.2 2027.7 L1810.1 2039.7 L1801.1 2051.8 L1795.1 2056.3 L1775.5 2058.6 L1769.5 2053.3 L1771 2033.7 L1766.5 2029.2 L1762.7 2045.8 L1757.4 2032.2 L1755.9 2021.7 L1746.9 2011.1 L1742.3 1999 L1736.3 1985.5Z" fill="#fff"/>
<path d="M1166.6 1641.2 L1172.2 1635.6 L1182 1632.8 L1191.8 1634.9 L1198.8 1642.6 L1197.4 1648.2 L1191.8 1652.4 L1193.9 1664.9 L1191.8 1674.7 L1182 1676.8 L1173.6 1680.3 L1161 1684.5 L1152.6 1684.5 L1149.1 1680.3 L1152.6 1674.7 L1153.3 1667.7 L1151.9 1658 L1151.2 1649.6 L1158.2 1646.8Z M1204.4 1588.7 L1221.2 1587.3 L1222.6 1590.8 L1215.6 1596.4 L1214.2 1600.6 L1235.2 1600.6 L1236.6 1603.4 L1229.6 1614.6 L1226.8 1620.2 L1222.6 1623 L1229.6 1624.4 L1238 1630 L1240.8 1639.8 L1252 1648.2 L1257.5 1660.8 L1260.3 1665 L1268.7 1666.3 L1271.5 1672 L1268.7 1680.3 L1263.1 1686 L1268.7 1687.3 L1263.1 1691.5 L1249.2 1694.3 L1238 1697.1 L1218.4 1699.9 L1200.2 1704.8 L1197.4 1702.7 L1205.8 1697.1 L1210 1691.5 L1215.6 1688.7 L1224 1687.3 L1218.4 1684.5 L1207.2 1681.7 L1201.6 1680.3 L1204.4 1677.5 L1212.8 1676.1 L1211.4 1667.7 L1208.6 1662.1 L1214.2 1659.4 L1222.6 1658 L1224 1652.4 L1219.8 1646.8 L1218.4 1641.2 L1214.2 1638.4 L1207.2 1641.2 L1203 1639.8 L1204.4 1632.8 L1205.8 1628.6 L1198.8 1632.8 L1196 1631.4 L1197.4 1624.4 L1201.6 1620.2 L1193.2 1618.8 L1191.8 1613.2 L1197.4 1607.6 L1198.8 1602 L1201.6 1592.2Z M1206 1646 L1209.5 1645.2 L1209 1649 L1206.2 1649.6Z M1182 1594 L1188 1590.5 L1192 1591 L1187 1595.5 L1183 1597Z M1179 1601.5 L1182.5 1600.5 L1183 1606 L1180.5 1610.5 L1178.5 1607Z M1186 1603 L1190 1602.5 L1189.5 1606 L1186.5 1606Z M1220.5 1580 L1226 1578.5 L1229 1581 L1224 1584.5 L1221 1583.5Z M1239 1560 L1243 1558 L1246.5 1558.5 L1243 1564 L1241 1569 L1239.5 1565Z M1352.7 1630 L1359.8 1628.6 L1361.1 1634.2 L1356.9 1637 L1352.7 1635.6Z M1365.3 1627.2 L1375.1 1622.3 L1380.7 1624.4 L1379.3 1632.8 L1376.5 1638.4 L1369.5 1639.8 L1363.9 1637 L1366.7 1632.8Z M1362 1640 L1375 1640 L1375 1643.5 L1362 1643Z M1401 1633.5 L1405.5 1632.8 L1406.6 1636.5 L1402 1637Z M1436 1602 L1447.2 1596.4 L1444.4 1602 L1438.8 1607.6 L1436 1611.8Z M1424.8 1604.8 L1426.2 1606.2 L1420.6 1617.4 L1418.5 1620.2 L1419.2 1616Z M1475.2 1583.8 L1483.6 1581.7 L1486.4 1585.2 L1489.2 1588 L1483.6 1590.8 L1478 1596.4 L1473.8 1593.6 L1475.2 1588Z M1450 1564.5 L1455 1563 L1458.4 1565.5 L1454 1568.4 L1450.5 1567.5Z M1348.1 1800.2 L1349.6 1804 L1350.3 1811.5 L1348.1 1819 L1346.6 1822.1 L1342.8 1820.6 L1340.5 1815.3 L1339.8 1809.3 L1342.8 1804.7 L1346.6 1803.2Z M1346.6 1824.3 L1351.1 1827.3 L1352.6 1834.1 L1351.1 1841.7 L1350.3 1853 L1344.3 1853.7 L1342.1 1856 L1337.5 1854.5 L1338.3 1841.7 L1336 1832.6 L1336.8 1826.6 L1339.8 1829.6Z M1379 1866.5 L1382.7 1865.8 L1388.8 1866.5 L1394.1 1868 L1401.6 1865.8 L1409.1 1865 L1408.4 1870.3 L1406.1 1877.1 L1407.6 1883.1 L1405.4 1886.9 L1399.3 1886.1 L1394.1 1879.3 L1384.3 1874 L1379 1872.5 L1378.2 1869.5Z M1278.5 1845.5 L1285.5 1841.3 L1288.3 1845.5 L1285.5 1849.7 L1279.9 1848.3Z M1292.5 1840 L1298.2 1841.5 L1296 1843.5 L1292 1842Z M1266 1854 L1271.5 1853 L1270.5 1858 L1267 1859.5Z M1490.1 1901 L1494.3 1901 L1499.9 1903.8 L1506.9 1904.5 L1518.1 1905.9 L1517.4 1909.4 L1508.3 1909.4 L1502.7 1910.8 L1497.1 1908 L1490.1 1906.6Z M1577.6 1908.7 L1583.9 1905.9 L1590.9 1903.8 L1600.7 1900.3 L1595.1 1906.6 L1592.3 1910.1 L1585.3 1915 L1579.7 1913.6Z M1533.5 1890.5 L1537.7 1891 L1535.5 1896 L1532.1 1897.5Z M1484.5 1846 L1488 1848 L1494 1853.5 L1497 1858 L1494 1858.5 L1489.5 1854 L1485 1849.5Z M1513 1849.5 L1518 1849 L1518.5 1853.5 L1514 1853.5Z M1513 1860.5 L1517 1860 L1516.5 1864.5 L1513.5 1864Z M1500 1868 L1503 1867.5 L1503 1870 L1500 1870.5Z M1506 1873 L1509 1872.5 L1509 1875 L1506 1875.5Z M1500.5 1878 L1503 1877.5 L1503 1880 L1500.5 1880.5Z M1511 1878 L1514 1877.5 L1514.5 1880 L1511.5 1880.5Z M1519 1875.5 L1522 1875 L1522 1877.5 L1519 1878Z M1490 1885 L1493 1884.5 L1493 1887 L1490 1887.5Z M1527 1885 L1530 1884.5 L1530 1887 L1527 1887.5Z M1505 1833.5 L1509 1833 L1509 1835.5 L1505 1836Z M1109.2 2003 L1112 1996 L1117 1989 L1119.5 1988.5 L1116 1996 L1111 2003.5Z M1084.5 2003 L1090 2000 L1092 2001.5 L1087.5 2005.5 L1084.8 2004.5Z M1095.5 2004 L1099.5 2003.5 L1100 2007.5 L1097 2008.5Z M1080.8 1939.3 L1085.5 1939 L1086.3 1941 L1081.5 1941.2Z" fill="#bebebe"/>
<circle cx="277.8" cy="1707.8" r="2" fill="#fcfdbf"/>
<circle cx="215.1" cy="1730.7" r="3.9" fill="#fcfdbf"/>
<circle cx="277.8" cy="1730" r="3.9" fill="#fcfdbf"/>
<circle cx="290.7" cy="1757" r="4.3" fill="#fcfdbf"/>
<circle cx="296.9" cy="1777" r="3.9" fill="#fcfdbf"/>
<circle cx="356.9" cy="1775" r="3.2" fill="#fcfdbf"/>
<circle cx="222.1" cy="1785.8" r="3.2" fill="#fcfdbf"/>
<circle cx="286.1" cy="1805" r="3.2" fill="#fcfdbf"/>
<circle cx="316.3" cy="1815.7" r="5.9" fill="#fde2a4"/>
<circle cx="402.4" cy="1754.9" r="2" fill="#b73779"/>
<circle cx="453.2" cy="1781" r="3.3" fill="#fcfdbf"/>
<circle cx="474.5" cy="1773.5" r="2" fill="#fcfdbf"/>
<circle cx="406.2" cy="1798.5" r="3.3" fill="#fcfdbf"/>
<circle cx="450.2" cy="1816.5" r="3.3" fill="#fcfdbf"/>
<circle cx="424" cy="1834.7" r="3.2" fill="#fcfdbf"/>
<circle cx="502.7" cy="1768.9" r="3.2" fill="#fb8861"/>
<circle cx="526.9" cy="1766.7" r="5.1" fill="#f3705a"/>
<circle cx="543.1" cy="1747.9" r="5.9" fill="#fecb8d"/>
<circle cx="561.7" cy="1737" r="2" fill="#fcfdbf"/>
<circle cx="551.2" cy="1786.8" r="3.1" fill="#4f127b"/>
<circle cx="540.4" cy="1798" r="3.2" fill="#fb8861"/>
<circle cx="526.4" cy="1802" r="1.8" fill="#000004"/>
<circle cx="540.2" cy="1809.8" r="5.8" fill="#e85362"/>
<circle cx="530.7" cy="1812.8" r="3.1" fill="#4f127b"/>
<circle cx="536.1" cy="1821.1" r="3.2" fill="#fb8861"/>
<circle cx="514" cy="1823.8" r="5.8" fill="#721f81"/>
<circle cx="496.3" cy="1823.6" r="3.2" fill="#fb8861"/>
<circle cx="469.7" cy="1828.1" r="3.2" fill="#fb8861"/>
<circle cx="506.7" cy="1830.8" r="1.9" fill="#b73779"/>
<circle cx="492.7" cy="1838" r="3.2" fill="#fb8861"/>
<circle cx="496.7" cy="1846.4" r="5.1" fill="#d6456c"/>
<circle cx="579" cy="1771.3" r="2" fill="#fcfdbf"/>
<circle cx="600.2" cy="1774.8" r="3.6" fill="#fcfdbf"/>
<circle cx="615.2" cy="1776.8" r="2" fill="#fcfdbf"/>
<circle cx="601.5" cy="1759.4" r="3.1" fill="#fcfdbf"/>
<circle cx="312.5" cy="1855.4" r="3.4" fill="#fcfdbf"/>
<circle cx="348.6" cy="1863.4" r="4.6" fill="#fc9965"/>
<circle cx="369.6" cy="1851.8" r="1.95" fill="#fcfdbf"/>
<circle cx="401.1" cy="1860" r="3.3" fill="#fcfdbf"/>
<circle cx="424" cy="1856.2" r="3.3" fill="#fb8861"/>
<circle cx="307.7" cy="1887" r="1.95" fill="#fcfdbf"/>
<circle cx="348.8" cy="1888.9" r="3.3" fill="#fcfdbf"/>
<circle cx="400.7" cy="1894.2" r="3.3" fill="#b73779"/>
<circle cx="421" cy="1901.4" r="3.3" fill="#fb8861"/>
<circle cx="447.2" cy="1912.3" r="3.3" fill="#4f127b"/>
<circle cx="437.9" cy="1920.1" r="3.3" fill="#b73779"/>
<circle cx="313.4" cy="1925.4" r="3.4" fill="#fb8861"/>
<circle cx="419.3" cy="1954.8" r="1.95" fill="#b73779"/>
<circle cx="360.7" cy="1961.1" r="3.3" fill="#b73779"/>
<circle cx="383.8" cy="1968" r="3.2" fill="#b73779"/>
<circle cx="419.8" cy="1971.8" r="3.2" fill="#b73779"/>
<circle cx="424.1" cy="1978.2" r="4.2" fill="#221150"/>
<circle cx="447.3" cy="2013.3" r="3.7" fill="#721f81"/>
<circle cx="433.3" cy="2017" r="3.1" fill="#000004"/>
<circle cx="447.3" cy="2038.2" r="1.9" fill="#b73779"/>
<circle cx="1321.2" cy="1595" r="1.75" fill="#fcfdbf"/>
<circle cx="1312.3" cy="1690" r="5.7" fill="#fde2a4"/>
<circle cx="1392.1" cy="1667.1" r="5.4" fill="#fcfdbf"/>
<circle cx="1396.4" cy="1683.2" r="3.8" fill="#fda46b"/>
<circle cx="1405" cy="1702.8" r="5.9" fill="#fcfdbf"/>
<circle cx="1443.2" cy="1699.4" r="3.3" fill="#fcfdbf"/>
<circle cx="1434.1" cy="1713.5" r="5.9" fill="#fcfdbf"/>
<circle cx="1484.8" cy="1707.2" r="1.95" fill="#fcfdbf"/>
<circle cx="1472.7" cy="1726.1" r="3.3" fill="#fcfdbf"/>
<circle cx="1485.1" cy="1732.8" r="1.95" fill="#fcfdbf"/>
<circle cx="1419" cy="1729.7" r="1.95" fill="#b73779"/>
<circle cx="1417" cy="1732.8" r="1.9" fill="#b73779"/>
<circle cx="1417.8" cy="1732.8" r="1.85" fill="#fcfdbf"/>
<circle cx="1436" cy="1734.3" r="1.95" fill="#b73779"/>
<circle cx="1451.9" cy="1741.8" r="1.95" fill="#fcfdbf"/>
<circle cx="1423.6" cy="1744.5" r="3.4" fill="#fb8861"/>
<circle cx="1411" cy="1763.6" r="3.3" fill="#fb8861"/>
<circle cx="1453.8" cy="1769.9" r="4.1" fill="#fdbb81"/>
<circle cx="1479" cy="1777.2" r="5.7" fill="#fcfdbf"/>
<circle cx="1503.2" cy="1756.6" r="3.3" fill="#fcfdbf"/>
<circle cx="1525.5" cy="1768.4" r="3.5" fill="#fcfdbf"/>
<circle cx="1516.1" cy="1781.5" r="3.3" fill="#fcfdbf"/>
<circle cx="1539.9" cy="1784.7" r="3.3" fill="#fcfdbf"/>
<circle cx="1462" cy="1788.1" r="3.2" fill="#fb8861"/>
<circle cx="1474.1" cy="1799.3" r="3.2" fill="#fb8861"/>
<circle cx="1497.3" cy="1796.4" r="2" fill="#b73779"/>
<circle cx="1284.3" cy="1743.8" r="1.95" fill="#b73779"/>
<circle cx="1306.3" cy="1739.9" r="3.8" fill="#fda46b"/>
<circle cx="1297.3" cy="1750.8" r="1.95" fill="#fcfdbf"/>
<circle cx="1314.1" cy="1757.5" r="3.8" fill="#fcfdbf"/>
<circle cx="1364.5" cy="1742" r="5.8" fill="#fcfdbf"/>
<circle cx="1334.1" cy="1756.6" r="7.3" fill="#fdbb81"/>
<circle cx="1341.9" cy="1765.8" r="3.3" fill="#fb8861"/>
<circle cx="1343.8" cy="1760.7" r="3.9" fill="#fcfdbf"/>
<circle cx="1303.9" cy="1764.1" r="3.9" fill="#fcfdbf"/>
<circle cx="1247.9" cy="1767.7" r="3.3" fill="#fb9e66"/>
<circle cx="1250.2" cy="1766.7" r="3.9" fill="#fcfdbf"/>
<circle cx="1248.7" cy="1775" r="4.1" fill="#fcfdbf"/>
<circle cx="1301.7" cy="1772.3" r="1.85" fill="#fcfdbf"/>
<circle cx="1302.9" cy="1776.6" r="1.85" fill="#000004"/>
<circle cx="1330" cy="1772.6" r="3.3" fill="#fb8861"/>
<circle cx="1375.1" cy="1767" r="3.8" fill="#fda46b"/>
<circle cx="1297.1" cy="1788" r="5.8" fill="#f98060"/>
<circle cx="1296.8" cy="1785.5" r="1.8" fill="#fcfdbf"/>
</g>
<line x1="71.3" y1="1545.7" x2="71.3" y2="2068.83" stroke="#000" stroke-width="1.07"/>
<line x1="70.77" y1="2068.3" x2="1835.8" y2="2068.3" stroke="#000" stroke-width="1.07"/>
<line x1="68" y1="1976.79" x2="71.3" y2="1976.79" stroke="#333" stroke-width="1.07"/>
<text x="66.1" y="1985.89" font-size="26" fill="#4d4d4d" textLength="27.76" lengthAdjust="spacingAndGlyphs" text-anchor="end">30</text>
<line x1="68" y1="1841.06" x2="71.3" y2="1841.06" stroke="#333" stroke-width="1.07"/>
<text x="66.1" y="1850.16" font-size="26" fill="#4d4d4d" textLength="27.76" lengthAdjust="spacingAndGlyphs" text-anchor="end">40</text>
<line x1="68" y1="1705.33" x2="71.3" y2="1705.33" stroke="#333" stroke-width="1.07"/>
<text x="66.1" y="1714.43" font-size="26" fill="#4d4d4d" textLength="27.76" lengthAdjust="spacingAndGlyphs" text-anchor="end">50</text>
<line x1="68" y1="1569.6" x2="71.3" y2="1569.6" stroke="#333" stroke-width="1.07"/>
<text x="66.1" y="1578.7" font-size="26" fill="#4d4d4d" textLength="27.76" lengthAdjust="spacingAndGlyphs" text-anchor="end">60</text>
<line x1="251" y1="2068.3" x2="251" y2="2071.6" stroke="#333" stroke-width="1.07"/>
<text x="251" y="2092" font-size="26" fill="#4d4d4d" textLength="56.22" lengthAdjust="spacingAndGlyphs" text-anchor="middle">&#8722;100</text>
<line x1="752.4" y1="2068.3" x2="752.4" y2="2071.6" stroke="#333" stroke-width="1.07"/>
<text x="752.4" y="2092" font-size="26" fill="#4d4d4d" textLength="42.34" lengthAdjust="spacingAndGlyphs" text-anchor="middle">&#8722;50</text>
<line x1="1253.8" y1="2068.3" x2="1253.8" y2="2071.6" stroke="#333" stroke-width="1.07"/>
<text x="1253.8" y="2092" font-size="26" fill="#4d4d4d" textLength="13.88" lengthAdjust="spacingAndGlyphs" text-anchor="middle">0</text>
<line x1="1755.2" y1="2068.3" x2="1755.2" y2="2071.6" stroke="#333" stroke-width="1.07"/>
<text x="1755.2" y="2092" font-size="26" fill="#4d4d4d" textLength="27.76" lengthAdjust="spacingAndGlyphs" text-anchor="middle">50</text>
<text x="953.55" y="2121" font-size="27.9" fill="#000" textLength="118.91" lengthAdjust="spacingAndGlyphs" text-anchor="middle">longitude</text>
<text x="29" y="1807" font-size="27.9" fill="#000" textLength="94.46" lengthAdjust="spacingAndGlyphs" text-anchor="middle" transform="rotate(-90 29 1807)">latitude</text>
<text x="1851.3" y="1673" font-size="24.2" fill="#000" textLength="104.44" lengthAdjust="spacingAndGlyphs">hb&#8211;chr5b</text>
<text x="1851.3" y="1699.5" font-size="24.2" fill="#000" textLength="110.00" lengthAdjust="spacingAndGlyphs">frequency</text>
<defs><linearGradient id="magma" x1="0" y1="0" x2="0" y2="1"><stop offset="0.0" stop-color="#000004"/><stop offset="0.1" stop-color="#140e36"/><stop offset="0.2" stop-color="#3b0f70"/><stop offset="0.3" stop-color="#641a80"/><stop offset="0.4" stop-color="#8c2981"/><stop offset="0.5" stop-color="#b73779"/><stop offset="0.6" stop-color="#de4968"/><stop offset="0.7" stop-color="#f7705c"/><stop offset="0.8" stop-color="#fe9f6d"/><stop offset="0.9" stop-color="#fecf92"/><stop offset="1.0" stop-color="#fcfdbf"/></linearGradient></defs>
<rect x="1853.1" y="1716.1" width="17.9" height="88.9" fill="url(#magma)"/>
<line x1="1853.1" y1="1782.78" x2="1856.7" y2="1782.78" stroke="#fff" stroke-width="1.0"/>
<line x1="1867.4" y1="1782.78" x2="1871" y2="1782.78" stroke="#fff" stroke-width="1.0"/>
<line x1="1853.1" y1="1760.55" x2="1856.7" y2="1760.55" stroke="#fff" stroke-width="1.0"/>
<line x1="1867.4" y1="1760.55" x2="1871" y2="1760.55" stroke="#fff" stroke-width="1.0"/>
<line x1="1853.1" y1="1738.33" x2="1856.7" y2="1738.33" stroke="#fff" stroke-width="1.0"/>
<line x1="1867.4" y1="1738.33" x2="1871" y2="1738.33" stroke="#fff" stroke-width="1.0"/>
<text x="1881.6" y="1724.3" font-size="23.1" fill="#000" textLength="48.56" lengthAdjust="spacingAndGlyphs">1.00</text>
<text x="1881.6" y="1746.53" font-size="23.1" fill="#000" textLength="48.56" lengthAdjust="spacingAndGlyphs">0.75</text>
<text x="1881.6" y="1768.75" font-size="23.1" fill="#000" textLength="48.56" lengthAdjust="spacingAndGlyphs">0.50</text>
<text x="1881.6" y="1790.98" font-size="23.1" fill="#000" textLength="48.56" lengthAdjust="spacingAndGlyphs">0.25</text>
<text x="1881.6" y="1813.2" font-size="23.1" fill="#000" textLength="48.56" lengthAdjust="spacingAndGlyphs">0.00</text>
<text x="1851.3" y="1848.2" font-size="24.2" fill="#000" textLength="115.60" lengthAdjust="spacingAndGlyphs">population</text>
<text x="1851.3" y="1874.7" font-size="24.2" fill="#000" textLength="132.24" lengthAdjust="spacingAndGlyphs">sample size</text>
<circle cx="1861.7" cy="1903" r="3.4" fill="#000"/>
<text x="1881.6" y="1911.2" font-size="23.1" fill="#000" textLength="13.87" lengthAdjust="spacingAndGlyphs">2</text>
<circle cx="1861.7" cy="1926.3" r="4.7" fill="#000"/>
<text x="1881.6" y="1934.5" font-size="23.1" fill="#000" textLength="13.87" lengthAdjust="spacingAndGlyphs">5</text>
<circle cx="1861.7" cy="1949.8" r="6.15" fill="#000"/>
<text x="1881.6" y="1958" font-size="23.1" fill="#000" textLength="27.75" lengthAdjust="spacingAndGlyphs">10</text>
<text x="8.8" y="27.1" font-size="39" fill="#000" font-weight="bold">A</text>
<text x="8.6" y="1026.4" font-size="39" fill="#000" font-weight="bold">B</text>
<text x="8.6" y="1526.4" font-size="39" fill="#000" font-weight="bold">C</text>
</svg>
</body></html>
